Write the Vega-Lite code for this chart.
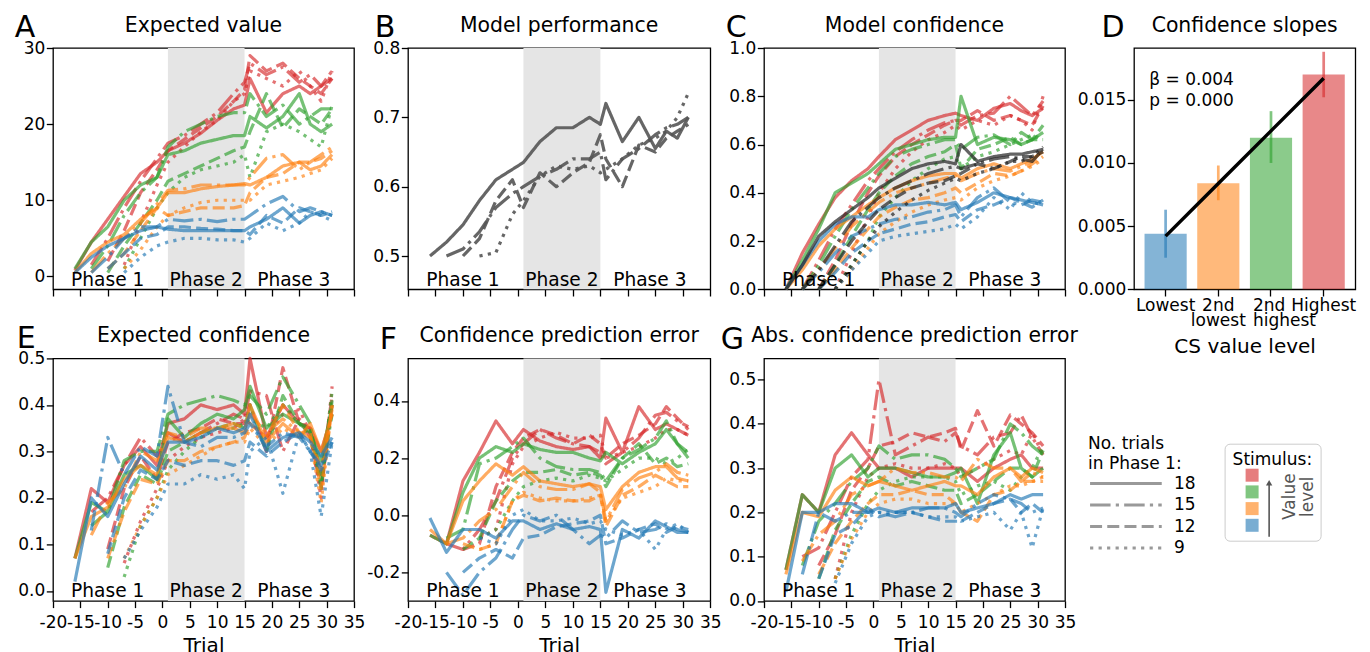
{
"$schema":"https://vega.github.io/schema/vega-lite/v6.json",
"background":"white",
"padding":{"left":13,"top":11,"right":0,"bottom":0},
"config":{
 "font":"DejaVu Sans",
 "view":{"stroke":"#000","strokeWidth":1.3},
 "axis":{"grid":false,"domain":false,"tickColor":"#000","tickWidth":1.3,"tickSize":6.7,"labelFont":"DejaVu Sans","labelFontSize":17,"labelColor":"#000","titleFont":"DejaVu Sans","titleFontWeight":"normal","titleColor":"#000","labelOverlap":false,"labelFlush":false,"labelBound":false},
 "axisX":{"titleFontSize":20,"labelOverlap":false},
 "axisY":{"labelPadding":1.5,"titleAngle":0,"titleAlign":"left","titleBaseline":"alphabetic","titleFontSize":30},
 "title":{"font":"DejaVu Sans","fontSize":20.4,"fontWeight":"normal","color":"#000","frame":"group","baseline":"alphabetic"},
 "legend":{"titleFont":"DejaVu Sans","labelFont":"DejaVu Sans","titleFontWeight":"normal","titleColor":"#000","labelColor":"#000","symbolBaseStrokeColor":"#999999"},
 "line":{"strokeWidth":3.2,"opacity":0.65,"strokeJoin":"round"}
},
"datasets":{
"S":[{"x":1,"x2":15}],
"P":[{"t":"Phase 1","x":-10},{"t":"Phase 2","x":8},{"t":"Phase 3","x":24}],
"A":[
{"n":18,"c":"R","x":-16,"y":0.8},{"n":18,"c":"R","x":-13,"y":4.5},{"n":18,"c":"R","x":-10,"y":7.5},{"n":18,"c":"R","x":-7,"y":10.5},{"n":18,"c":"R","x":-4,"y":13.5},{"n":18,"c":"R","x":-1,"y":15},{"n":18,"c":"R","x":1,"y":16.5},{"n":18,"c":"R","x":4,"y":17.5},{"n":18,"c":"R","x":7,"y":18.8},{"n":18,"c":"R","x":10,"y":20.5},{"n":18,"c":"R","x":13,"y":22},{"n":18,"c":"R","x":15,"y":22.5},{"n":18,"c":"R","x":16,"y":26},{"n":18,"c":"R","x":19,"y":21.5},{"n":18,"c":"R","x":22,"y":24},{"n":18,"c":"R","x":25,"y":25},{"n":18,"c":"R","x":27,"y":24},{"n":18,"c":"R","x":29,"y":25},{"n":18,"c":"R","x":31,"y":26},
{"n":15,"c":"R","x":-13,"y":1.5},{"n":15,"c":"R","x":-10,"y":5},{"n":15,"c":"R","x":-7,"y":9},{"n":15,"c":"R","x":-4,"y":12.5},{"n":15,"c":"R","x":-1,"y":15.5},{"n":15,"c":"R","x":1,"y":17.5},{"n":15,"c":"R","x":4,"y":18.5},{"n":15,"c":"R","x":7,"y":20},{"n":15,"c":"R","x":10,"y":21.5},{"n":15,"c":"R","x":13,"y":24},{"n":15,"c":"R","x":15,"y":25.5},{"n":15,"c":"R","x":16,"y":28},{"n":15,"c":"R","x":19,"y":26.5},{"n":15,"c":"R","x":22,"y":27.5},{"n":15,"c":"R","x":25,"y":25.5},{"n":15,"c":"R","x":27,"y":26.5},{"n":15,"c":"R","x":29,"y":25},{"n":15,"c":"R","x":31,"y":27},
{"n":12,"c":"R","x":-10,"y":2},{"n":12,"c":"R","x":-7,"y":6},{"n":12,"c":"R","x":-4,"y":11},{"n":12,"c":"R","x":-1,"y":14},{"n":12,"c":"R","x":1,"y":16.5},{"n":12,"c":"R","x":4,"y":18},{"n":12,"c":"R","x":7,"y":19.5},{"n":12,"c":"R","x":10,"y":21},{"n":12,"c":"R","x":13,"y":23},{"n":12,"c":"R","x":15,"y":24.5},{"n":12,"c":"R","x":16,"y":29},{"n":12,"c":"R","x":19,"y":27},{"n":12,"c":"R","x":22,"y":28},{"n":12,"c":"R","x":25,"y":26},{"n":12,"c":"R","x":27,"y":25},{"n":12,"c":"R","x":29,"y":24},{"n":12,"c":"R","x":31,"y":26},
{"n":9,"c":"R","x":-7,"y":1.5},{"n":9,"c":"R","x":-4,"y":7},{"n":9,"c":"R","x":-1,"y":12},{"n":9,"c":"R","x":1,"y":15},{"n":9,"c":"R","x":4,"y":17},{"n":9,"c":"R","x":7,"y":19},{"n":9,"c":"R","x":10,"y":20.5},{"n":9,"c":"R","x":13,"y":23},{"n":9,"c":"R","x":15,"y":24},{"n":9,"c":"R","x":16,"y":27},{"n":9,"c":"R","x":19,"y":26},{"n":9,"c":"R","x":22,"y":25},{"n":9,"c":"R","x":25,"y":27},{"n":9,"c":"R","x":27,"y":25},{"n":9,"c":"R","x":29,"y":23},{"n":9,"c":"R","x":31,"y":27},
{"n":18,"c":"G","x":-16,"y":1},{"n":18,"c":"G","x":-13,"y":4.5},{"n":18,"c":"G","x":-10,"y":6.5},{"n":18,"c":"G","x":-7,"y":10},{"n":18,"c":"G","x":-4,"y":12},{"n":18,"c":"G","x":-1,"y":13},{"n":18,"c":"G","x":1,"y":16},{"n":18,"c":"G","x":4,"y":16.5},{"n":18,"c":"G","x":7,"y":17.5},{"n":18,"c":"G","x":10,"y":18},{"n":18,"c":"G","x":13,"y":18.5},{"n":18,"c":"G","x":15,"y":18.5},{"n":18,"c":"G","x":16,"y":21},{"n":18,"c":"G","x":19,"y":19.5},{"n":18,"c":"G","x":22,"y":21},{"n":18,"c":"G","x":25,"y":24},{"n":18,"c":"G","x":27,"y":20},{"n":18,"c":"G","x":29,"y":19},{"n":18,"c":"G","x":31,"y":20},
{"n":15,"c":"G","x":-13,"y":1},{"n":15,"c":"G","x":-10,"y":4},{"n":15,"c":"G","x":-7,"y":8},{"n":15,"c":"G","x":-4,"y":11},{"n":15,"c":"G","x":-1,"y":13},{"n":15,"c":"G","x":1,"y":17},{"n":15,"c":"G","x":4,"y":19},{"n":15,"c":"G","x":7,"y":20},{"n":15,"c":"G","x":10,"y":21},{"n":15,"c":"G","x":13,"y":21.5},{"n":15,"c":"G","x":15,"y":21.5},{"n":15,"c":"G","x":16,"y":24},{"n":15,"c":"G","x":19,"y":21},{"n":15,"c":"G","x":22,"y":22.5},{"n":15,"c":"G","x":25,"y":20},{"n":15,"c":"G","x":27,"y":21},{"n":15,"c":"G","x":29,"y":22},{"n":15,"c":"G","x":31,"y":22},
{"n":12,"c":"G","x":-10,"y":0.5},{"n":12,"c":"G","x":-7,"y":4},{"n":12,"c":"G","x":-4,"y":7},{"n":12,"c":"G","x":-1,"y":10},{"n":12,"c":"G","x":1,"y":12.5},{"n":12,"c":"G","x":4,"y":13.5},{"n":12,"c":"G","x":7,"y":14.5},{"n":12,"c":"G","x":10,"y":15.5},{"n":12,"c":"G","x":13,"y":16.5},{"n":12,"c":"G","x":15,"y":17},{"n":12,"c":"G","x":16,"y":19},{"n":12,"c":"G","x":19,"y":24},{"n":12,"c":"G","x":22,"y":19.5},{"n":12,"c":"G","x":25,"y":22},{"n":12,"c":"G","x":27,"y":21},{"n":12,"c":"G","x":29,"y":20},{"n":12,"c":"G","x":31,"y":22},
{"n":9,"c":"G","x":-7,"y":1},{"n":9,"c":"G","x":-4,"y":5},{"n":9,"c":"G","x":-1,"y":9},{"n":9,"c":"G","x":1,"y":11},{"n":9,"c":"G","x":4,"y":13},{"n":9,"c":"G","x":7,"y":14},{"n":9,"c":"G","x":10,"y":14.5},{"n":9,"c":"G","x":13,"y":15},{"n":9,"c":"G","x":15,"y":16},{"n":9,"c":"G","x":16,"y":13},{"n":9,"c":"G","x":19,"y":19},{"n":9,"c":"G","x":22,"y":20},{"n":9,"c":"G","x":25,"y":19},{"n":9,"c":"G","x":27,"y":18},{"n":9,"c":"G","x":29,"y":17},{"n":9,"c":"G","x":31,"y":22.5},
{"n":18,"c":"O","x":-16,"y":0.5},{"n":18,"c":"O","x":-13,"y":3},{"n":18,"c":"O","x":-10,"y":4.5},{"n":18,"c":"O","x":-7,"y":5.5},{"n":18,"c":"O","x":-4,"y":7.5},{"n":18,"c":"O","x":-1,"y":9},{"n":18,"c":"O","x":1,"y":11},{"n":18,"c":"O","x":4,"y":11},{"n":18,"c":"O","x":7,"y":11.5},{"n":18,"c":"O","x":10,"y":11.8},{"n":18,"c":"O","x":13,"y":12},{"n":18,"c":"O","x":15,"y":12.2},{"n":18,"c":"O","x":16,"y":12},{"n":18,"c":"O","x":19,"y":13},{"n":18,"c":"O","x":22,"y":14.5},{"n":18,"c":"O","x":25,"y":15},{"n":18,"c":"O","x":27,"y":14},{"n":18,"c":"O","x":29,"y":14.5},{"n":18,"c":"O","x":31,"y":16},
{"n":15,"c":"O","x":-13,"y":0.5},{"n":15,"c":"O","x":-10,"y":3},{"n":15,"c":"O","x":-7,"y":5},{"n":15,"c":"O","x":-4,"y":7},{"n":15,"c":"O","x":-1,"y":9.5},{"n":15,"c":"O","x":1,"y":11.3},{"n":15,"c":"O","x":4,"y":11.5},{"n":15,"c":"O","x":7,"y":12},{"n":15,"c":"O","x":10,"y":12},{"n":15,"c":"O","x":13,"y":12},{"n":15,"c":"O","x":15,"y":12},{"n":15,"c":"O","x":16,"y":13},{"n":15,"c":"O","x":19,"y":15.5},{"n":15,"c":"O","x":22,"y":16},{"n":15,"c":"O","x":25,"y":14},{"n":15,"c":"O","x":27,"y":15},{"n":15,"c":"O","x":29,"y":16},{"n":15,"c":"O","x":31,"y":17},
{"n":12,"c":"O","x":-10,"y":1},{"n":12,"c":"O","x":-7,"y":3},{"n":12,"c":"O","x":-4,"y":6},{"n":12,"c":"O","x":-1,"y":9},{"n":12,"c":"O","x":1,"y":8},{"n":12,"c":"O","x":4,"y":8.5},{"n":12,"c":"O","x":7,"y":9},{"n":12,"c":"O","x":10,"y":9},{"n":12,"c":"O","x":13,"y":9},{"n":12,"c":"O","x":15,"y":9.3},{"n":12,"c":"O","x":16,"y":11},{"n":12,"c":"O","x":19,"y":13},{"n":12,"c":"O","x":22,"y":13.5},{"n":12,"c":"O","x":25,"y":15},{"n":12,"c":"O","x":27,"y":15},{"n":12,"c":"O","x":29,"y":15.5},{"n":12,"c":"O","x":31,"y":16.5},
{"n":9,"c":"O","x":-7,"y":1},{"n":9,"c":"O","x":-4,"y":3.5},{"n":9,"c":"O","x":-1,"y":6.5},{"n":9,"c":"O","x":1,"y":8},{"n":9,"c":"O","x":4,"y":9},{"n":9,"c":"O","x":7,"y":9.7},{"n":9,"c":"O","x":10,"y":10},{"n":9,"c":"O","x":13,"y":10},{"n":9,"c":"O","x":15,"y":10},{"n":9,"c":"O","x":16,"y":10},{"n":9,"c":"O","x":19,"y":12},{"n":9,"c":"O","x":22,"y":12.5},{"n":9,"c":"O","x":25,"y":13},{"n":9,"c":"O","x":27,"y":13.5},{"n":9,"c":"O","x":29,"y":14},{"n":9,"c":"O","x":31,"y":15.5},
{"n":18,"c":"B","x":-16,"y":0.5},{"n":18,"c":"B","x":-13,"y":2.5},{"n":18,"c":"B","x":-10,"y":4},{"n":18,"c":"B","x":-7,"y":5},{"n":18,"c":"B","x":-4,"y":6},{"n":18,"c":"B","x":-1,"y":6.5},{"n":18,"c":"B","x":1,"y":6.2},{"n":18,"c":"B","x":4,"y":6},{"n":18,"c":"B","x":7,"y":6},{"n":18,"c":"B","x":10,"y":6},{"n":18,"c":"B","x":13,"y":6},{"n":18,"c":"B","x":15,"y":6},{"n":18,"c":"B","x":16,"y":6.5},{"n":18,"c":"B","x":19,"y":7.5},{"n":18,"c":"B","x":22,"y":9},{"n":18,"c":"B","x":25,"y":7},{"n":18,"c":"B","x":27,"y":8},{"n":18,"c":"B","x":29,"y":8.5},{"n":18,"c":"B","x":31,"y":8},
{"n":15,"c":"B","x":-13,"y":0.5},{"n":15,"c":"B","x":-10,"y":2.5},{"n":15,"c":"B","x":-7,"y":5},{"n":15,"c":"B","x":-4,"y":6.5},{"n":15,"c":"B","x":-1,"y":6.5},{"n":15,"c":"B","x":1,"y":7.5},{"n":15,"c":"B","x":4,"y":7.3},{"n":15,"c":"B","x":7,"y":7.5},{"n":15,"c":"B","x":10,"y":7.2},{"n":15,"c":"B","x":13,"y":7.5},{"n":15,"c":"B","x":15,"y":7.5},{"n":15,"c":"B","x":16,"y":8},{"n":15,"c":"B","x":19,"y":9.5},{"n":15,"c":"B","x":22,"y":10.5},{"n":15,"c":"B","x":25,"y":8.5},{"n":15,"c":"B","x":27,"y":9},{"n":15,"c":"B","x":29,"y":8.5},{"n":15,"c":"B","x":31,"y":8},
{"n":12,"c":"B","x":-10,"y":1},{"n":12,"c":"B","x":-7,"y":3},{"n":12,"c":"B","x":-4,"y":5},{"n":12,"c":"B","x":-1,"y":5.5},{"n":12,"c":"B","x":1,"y":6.5},{"n":12,"c":"B","x":4,"y":6.5},{"n":12,"c":"B","x":7,"y":6.3},{"n":12,"c":"B","x":10,"y":6.2},{"n":12,"c":"B","x":13,"y":6},{"n":12,"c":"B","x":15,"y":6},{"n":12,"c":"B","x":16,"y":5.5},{"n":12,"c":"B","x":19,"y":8},{"n":12,"c":"B","x":22,"y":7},{"n":12,"c":"B","x":25,"y":9},{"n":12,"c":"B","x":27,"y":8.5},{"n":12,"c":"B","x":29,"y":8},{"n":12,"c":"B","x":31,"y":8.5},
{"n":9,"c":"B","x":-7,"y":0.5},{"n":9,"c":"B","x":-4,"y":2.5},{"n":9,"c":"B","x":-1,"y":4},{"n":9,"c":"B","x":1,"y":4.5},{"n":9,"c":"B","x":4,"y":5},{"n":9,"c":"B","x":7,"y":5},{"n":9,"c":"B","x":10,"y":4.8},{"n":9,"c":"B","x":13,"y":4.8},{"n":9,"c":"B","x":15,"y":4.5},{"n":9,"c":"B","x":16,"y":5},{"n":9,"c":"B","x":19,"y":7},{"n":9,"c":"B","x":22,"y":6},{"n":9,"c":"B","x":25,"y":7},{"n":9,"c":"B","x":27,"y":8.5},{"n":9,"c":"B","x":29,"y":8},{"n":9,"c":"B","x":31,"y":7.3}
],
"B":[
{"n":18,"x":-16,"y":0.5},{"n":18,"x":-13,"y":0.52},{"n":18,"x":-10,"y":0.545},{"n":18,"x":-7,"y":0.58},{"n":18,"x":-4,"y":0.61},{"n":18,"x":-1,"y":0.625},{"n":18,"x":1,"y":0.635},{"n":18,"x":4,"y":0.665},{"n":18,"x":7,"y":0.685},{"n":18,"x":10,"y":0.685},{"n":18,"x":13,"y":0.7},{"n":18,"x":15,"y":0.69},{"n":18,"x":16,"y":0.72},{"n":18,"x":19,"y":0.665},{"n":18,"x":22,"y":0.7},{"n":18,"x":25,"y":0.655},{"n":18,"x":27,"y":0.68},{"n":18,"x":29,"y":0.67},{"n":18,"x":31,"y":0.7},
{"n":15,"x":-13,"y":0.5},{"n":15,"x":-10,"y":0.51},{"n":15,"x":-7,"y":0.535},{"n":15,"x":-4,"y":0.57},{"n":15,"x":-1,"y":0.59},{"n":15,"x":1,"y":0.6},{"n":15,"x":4,"y":0.615},{"n":15,"x":7,"y":0.625},{"n":15,"x":10,"y":0.64},{"n":15,"x":13,"y":0.64},{"n":15,"x":15,"y":0.65},{"n":15,"x":16,"y":0.61},{"n":15,"x":19,"y":0.64},{"n":15,"x":22,"y":0.655},{"n":15,"x":25,"y":0.675},{"n":15,"x":27,"y":0.685},{"n":15,"x":29,"y":0.69},{"n":15,"x":31,"y":0.7},
{"n":12,"x":-10,"y":0.5},{"n":12,"x":-7,"y":0.525},{"n":12,"x":-4,"y":0.58},{"n":12,"x":-1,"y":0.61},{"n":12,"x":1,"y":0.57},{"n":12,"x":4,"y":0.62},{"n":12,"x":7,"y":0.6},{"n":12,"x":10,"y":0.62},{"n":12,"x":13,"y":0.635},{"n":12,"x":15,"y":0.675},{"n":12,"x":16,"y":0.64},{"n":12,"x":19,"y":0.6},{"n":12,"x":22,"y":0.66},{"n":12,"x":25,"y":0.65},{"n":12,"x":27,"y":0.67},{"n":12,"x":29,"y":0.68},{"n":12,"x":31,"y":0.69},
{"n":9,"x":-7,"y":0.5},{"n":9,"x":-4,"y":0.505},{"n":9,"x":-1,"y":0.56},{"n":9,"x":1,"y":0.58},{"n":9,"x":4,"y":0.615},{"n":9,"x":7,"y":0.63},{"n":9,"x":10,"y":0.625},{"n":9,"x":13,"y":0.63},{"n":9,"x":15,"y":0.62},{"n":9,"x":16,"y":0.625},{"n":9,"x":19,"y":0.64},{"n":9,"x":22,"y":0.66},{"n":9,"x":25,"y":0.67},{"n":9,"x":27,"y":0.68},{"n":9,"x":29,"y":0.7},{"n":9,"x":31,"y":0.735}
],
"C":[
{"n":18,"c":"R","x":-16,"y":0},{"n":18,"c":"R","x":-13,"y":0.15},{"n":18,"c":"R","x":-10,"y":0.27},{"n":18,"c":"R","x":-7,"y":0.38},{"n":18,"c":"R","x":-4,"y":0.45},{"n":18,"c":"R","x":-1,"y":0.5},{"n":18,"c":"R","x":1,"y":0.55},{"n":18,"c":"R","x":4,"y":0.62},{"n":18,"c":"R","x":7,"y":0.66},{"n":18,"c":"R","x":10,"y":0.7},{"n":18,"c":"R","x":13,"y":0.72},{"n":18,"c":"R","x":15,"y":0.73},{"n":18,"c":"R","x":16,"y":0.72},{"n":18,"c":"R","x":19,"y":0.7},{"n":18,"c":"R","x":22,"y":0.75},{"n":18,"c":"R","x":25,"y":0.77},{"n":18,"c":"R","x":27,"y":0.74},{"n":18,"c":"R","x":29,"y":0.72},{"n":18,"c":"R","x":31,"y":0.75},
{"n":15,"c":"R","x":-13,"y":0},{"n":15,"c":"R","x":-10,"y":0.12},{"n":15,"c":"R","x":-7,"y":0.25},{"n":15,"c":"R","x":-4,"y":0.35},{"n":15,"c":"R","x":-1,"y":0.45},{"n":15,"c":"R","x":1,"y":0.5},{"n":15,"c":"R","x":4,"y":0.57},{"n":15,"c":"R","x":7,"y":0.62},{"n":15,"c":"R","x":10,"y":0.66},{"n":15,"c":"R","x":13,"y":0.69},{"n":15,"c":"R","x":15,"y":0.7},{"n":15,"c":"R","x":16,"y":0.68},{"n":15,"c":"R","x":19,"y":0.72},{"n":15,"c":"R","x":22,"y":0.73},{"n":15,"c":"R","x":25,"y":0.8},{"n":15,"c":"R","x":27,"y":0.76},{"n":15,"c":"R","x":29,"y":0.72},{"n":15,"c":"R","x":31,"y":0.78},
{"n":12,"c":"R","x":-10,"y":0},{"n":12,"c":"R","x":-7,"y":0.12},{"n":12,"c":"R","x":-4,"y":0.27},{"n":12,"c":"R","x":-1,"y":0.4},{"n":12,"c":"R","x":1,"y":0.47},{"n":12,"c":"R","x":4,"y":0.55},{"n":12,"c":"R","x":7,"y":0.6},{"n":12,"c":"R","x":10,"y":0.64},{"n":12,"c":"R","x":13,"y":0.68},{"n":12,"c":"R","x":15,"y":0.7},{"n":12,"c":"R","x":16,"y":0.7},{"n":12,"c":"R","x":19,"y":0.74},{"n":12,"c":"R","x":22,"y":0.7},{"n":12,"c":"R","x":25,"y":0.72},{"n":12,"c":"R","x":27,"y":0.7},{"n":12,"c":"R","x":29,"y":0.68},{"n":12,"c":"R","x":31,"y":0.76},
{"n":9,"c":"R","x":-7,"y":0},{"n":9,"c":"R","x":-4,"y":0.15},{"n":9,"c":"R","x":-1,"y":0.3},{"n":9,"c":"R","x":1,"y":0.4},{"n":9,"c":"R","x":4,"y":0.5},{"n":9,"c":"R","x":7,"y":0.57},{"n":9,"c":"R","x":10,"y":0.62},{"n":9,"c":"R","x":13,"y":0.65},{"n":9,"c":"R","x":15,"y":0.68},{"n":9,"c":"R","x":16,"y":0.66},{"n":9,"c":"R","x":19,"y":0.7},{"n":9,"c":"R","x":22,"y":0.68},{"n":9,"c":"R","x":25,"y":0.72},{"n":9,"c":"R","x":27,"y":0.7},{"n":9,"c":"R","x":29,"y":0.66},{"n":9,"c":"R","x":31,"y":0.8},
{"n":18,"c":"G","x":-16,"y":0},{"n":18,"c":"G","x":-13,"y":0.12},{"n":18,"c":"G","x":-10,"y":0.25},{"n":18,"c":"G","x":-7,"y":0.4},{"n":18,"c":"G","x":-4,"y":0.44},{"n":18,"c":"G","x":-1,"y":0.48},{"n":18,"c":"G","x":1,"y":0.52},{"n":18,"c":"G","x":4,"y":0.58},{"n":18,"c":"G","x":7,"y":0.6},{"n":18,"c":"G","x":10,"y":0.62},{"n":18,"c":"G","x":13,"y":0.63},{"n":18,"c":"G","x":15,"y":0.63},{"n":18,"c":"G","x":16,"y":0.8},{"n":18,"c":"G","x":19,"y":0.6},{"n":18,"c":"G","x":22,"y":0.63},{"n":18,"c":"G","x":25,"y":0.62},{"n":18,"c":"G","x":27,"y":0.6},{"n":18,"c":"G","x":29,"y":0.62},{"n":18,"c":"G","x":31,"y":0.65},
{"n":15,"c":"G","x":-13,"y":0},{"n":15,"c":"G","x":-10,"y":0.1},{"n":15,"c":"G","x":-7,"y":0.22},{"n":15,"c":"G","x":-4,"y":0.33},{"n":15,"c":"G","x":-1,"y":0.42},{"n":15,"c":"G","x":1,"y":0.48},{"n":15,"c":"G","x":4,"y":0.55},{"n":15,"c":"G","x":7,"y":0.58},{"n":15,"c":"G","x":10,"y":0.6},{"n":15,"c":"G","x":13,"y":0.62},{"n":15,"c":"G","x":15,"y":0.62},{"n":15,"c":"G","x":16,"y":0.58},{"n":15,"c":"G","x":19,"y":0.63},{"n":15,"c":"G","x":22,"y":0.64},{"n":15,"c":"G","x":25,"y":0.6},{"n":15,"c":"G","x":27,"y":0.65},{"n":15,"c":"G","x":29,"y":0.62},{"n":15,"c":"G","x":31,"y":0.62},
{"n":12,"c":"G","x":-10,"y":0},{"n":12,"c":"G","x":-7,"y":0.1},{"n":12,"c":"G","x":-4,"y":0.22},{"n":12,"c":"G","x":-1,"y":0.33},{"n":12,"c":"G","x":1,"y":0.4},{"n":12,"c":"G","x":4,"y":0.47},{"n":12,"c":"G","x":7,"y":0.52},{"n":12,"c":"G","x":10,"y":0.55},{"n":12,"c":"G","x":13,"y":0.57},{"n":12,"c":"G","x":15,"y":0.6},{"n":12,"c":"G","x":16,"y":0.5},{"n":12,"c":"G","x":19,"y":0.58},{"n":12,"c":"G","x":22,"y":0.6},{"n":12,"c":"G","x":25,"y":0.63},{"n":12,"c":"G","x":27,"y":0.6},{"n":12,"c":"G","x":29,"y":0.62},{"n":12,"c":"G","x":31,"y":0.68},
{"n":9,"c":"G","x":-7,"y":0},{"n":9,"c":"G","x":-4,"y":0.1},{"n":9,"c":"G","x":-1,"y":0.2},{"n":9,"c":"G","x":1,"y":0.3},{"n":9,"c":"G","x":4,"y":0.38},{"n":9,"c":"G","x":7,"y":0.45},{"n":9,"c":"G","x":10,"y":0.5},{"n":9,"c":"G","x":13,"y":0.54},{"n":9,"c":"G","x":15,"y":0.55},{"n":9,"c":"G","x":16,"y":0.5},{"n":9,"c":"G","x":19,"y":0.55},{"n":9,"c":"G","x":22,"y":0.57},{"n":9,"c":"G","x":25,"y":0.6},{"n":9,"c":"G","x":27,"y":0.62},{"n":9,"c":"G","x":29,"y":0.64},{"n":9,"c":"G","x":31,"y":0.62},
{"n":18,"c":"O","x":-16,"y":0},{"n":18,"c":"O","x":-13,"y":0.08},{"n":18,"c":"O","x":-10,"y":0.18},{"n":18,"c":"O","x":-7,"y":0.25},{"n":18,"c":"O","x":-4,"y":0.3},{"n":18,"c":"O","x":-1,"y":0.35},{"n":18,"c":"O","x":1,"y":0.38},{"n":18,"c":"O","x":4,"y":0.42},{"n":18,"c":"O","x":7,"y":0.45},{"n":18,"c":"O","x":10,"y":0.47},{"n":18,"c":"O","x":13,"y":0.48},{"n":18,"c":"O","x":15,"y":0.48},{"n":18,"c":"O","x":16,"y":0.46},{"n":18,"c":"O","x":19,"y":0.5},{"n":18,"c":"O","x":22,"y":0.52},{"n":18,"c":"O","x":25,"y":0.5},{"n":18,"c":"O","x":27,"y":0.52},{"n":18,"c":"O","x":29,"y":0.54},{"n":18,"c":"O","x":31,"y":0.57},
{"n":15,"c":"O","x":-13,"y":0},{"n":15,"c":"O","x":-10,"y":0.08},{"n":15,"c":"O","x":-7,"y":0.17},{"n":15,"c":"O","x":-4,"y":0.26},{"n":15,"c":"O","x":-1,"y":0.32},{"n":15,"c":"O","x":1,"y":0.36},{"n":15,"c":"O","x":4,"y":0.4},{"n":15,"c":"O","x":7,"y":0.42},{"n":15,"c":"O","x":10,"y":0.44},{"n":15,"c":"O","x":13,"y":0.46},{"n":15,"c":"O","x":15,"y":0.47},{"n":15,"c":"O","x":16,"y":0.45},{"n":15,"c":"O","x":19,"y":0.48},{"n":15,"c":"O","x":22,"y":0.5},{"n":15,"c":"O","x":25,"y":0.49},{"n":15,"c":"O","x":27,"y":0.51},{"n":15,"c":"O","x":29,"y":0.53},{"n":15,"c":"O","x":31,"y":0.58},
{"n":12,"c":"O","x":-10,"y":0},{"n":12,"c":"O","x":-7,"y":0.08},{"n":12,"c":"O","x":-4,"y":0.17},{"n":12,"c":"O","x":-1,"y":0.25},{"n":12,"c":"O","x":1,"y":0.3},{"n":12,"c":"O","x":4,"y":0.34},{"n":12,"c":"O","x":7,"y":0.37},{"n":12,"c":"O","x":10,"y":0.38},{"n":12,"c":"O","x":13,"y":0.4},{"n":12,"c":"O","x":15,"y":0.42},{"n":12,"c":"O","x":16,"y":0.4},{"n":12,"c":"O","x":19,"y":0.44},{"n":12,"c":"O","x":22,"y":0.48},{"n":12,"c":"O","x":25,"y":0.47},{"n":12,"c":"O","x":27,"y":0.49},{"n":12,"c":"O","x":29,"y":0.52},{"n":12,"c":"O","x":31,"y":0.55},
{"n":9,"c":"O","x":-7,"y":0},{"n":9,"c":"O","x":-4,"y":0.08},{"n":9,"c":"O","x":-1,"y":0.17},{"n":9,"c":"O","x":1,"y":0.23},{"n":9,"c":"O","x":4,"y":0.28},{"n":9,"c":"O","x":7,"y":0.32},{"n":9,"c":"O","x":10,"y":0.35},{"n":9,"c":"O","x":13,"y":0.37},{"n":9,"c":"O","x":15,"y":0.38},{"n":9,"c":"O","x":16,"y":0.37},{"n":9,"c":"O","x":19,"y":0.42},{"n":9,"c":"O","x":22,"y":0.45},{"n":9,"c":"O","x":25,"y":0.47},{"n":9,"c":"O","x":27,"y":0.49},{"n":9,"c":"O","x":29,"y":0.51},{"n":9,"c":"O","x":31,"y":0.54},
{"n":18,"c":"B","x":-16,"y":0},{"n":18,"c":"B","x":-13,"y":0.1},{"n":18,"c":"B","x":-10,"y":0.2},{"n":18,"c":"B","x":-7,"y":0.27},{"n":18,"c":"B","x":-4,"y":0.3},{"n":18,"c":"B","x":-1,"y":0.3},{"n":18,"c":"B","x":1,"y":0.33},{"n":18,"c":"B","x":4,"y":0.35},{"n":18,"c":"B","x":7,"y":0.35},{"n":18,"c":"B","x":10,"y":0.36},{"n":18,"c":"B","x":13,"y":0.35},{"n":18,"c":"B","x":15,"y":0.36},{"n":18,"c":"B","x":16,"y":0.33},{"n":18,"c":"B","x":19,"y":0.36},{"n":18,"c":"B","x":22,"y":0.4},{"n":18,"c":"B","x":25,"y":0.38},{"n":18,"c":"B","x":27,"y":0.37},{"n":18,"c":"B","x":29,"y":0.36},{"n":18,"c":"B","x":31,"y":0.35},
{"n":15,"c":"B","x":-13,"y":0},{"n":15,"c":"B","x":-10,"y":0.07},{"n":15,"c":"B","x":-7,"y":0.15},{"n":15,"c":"B","x":-4,"y":0.22},{"n":15,"c":"B","x":-1,"y":0.25},{"n":15,"c":"B","x":1,"y":0.27},{"n":15,"c":"B","x":4,"y":0.29},{"n":15,"c":"B","x":7,"y":0.3},{"n":15,"c":"B","x":10,"y":0.32},{"n":15,"c":"B","x":13,"y":0.33},{"n":15,"c":"B","x":15,"y":0.35},{"n":15,"c":"B","x":16,"y":0.3},{"n":15,"c":"B","x":19,"y":0.38},{"n":15,"c":"B","x":22,"y":0.42},{"n":15,"c":"B","x":25,"y":0.36},{"n":15,"c":"B","x":27,"y":0.35},{"n":15,"c":"B","x":29,"y":0.37},{"n":15,"c":"B","x":31,"y":0.36},
{"n":12,"c":"B","x":-10,"y":0},{"n":12,"c":"B","x":-7,"y":0.07},{"n":12,"c":"B","x":-4,"y":0.15},{"n":12,"c":"B","x":-1,"y":0.2},{"n":12,"c":"B","x":1,"y":0.23},{"n":12,"c":"B","x":4,"y":0.25},{"n":12,"c":"B","x":7,"y":0.27},{"n":12,"c":"B","x":10,"y":0.28},{"n":12,"c":"B","x":13,"y":0.3},{"n":12,"c":"B","x":15,"y":0.31},{"n":12,"c":"B","x":16,"y":0.28},{"n":12,"c":"B","x":19,"y":0.33},{"n":12,"c":"B","x":22,"y":0.35},{"n":12,"c":"B","x":25,"y":0.38},{"n":12,"c":"B","x":27,"y":0.36},{"n":12,"c":"B","x":29,"y":0.34},{"n":12,"c":"B","x":31,"y":0.37},
{"n":9,"c":"B","x":-7,"y":0},{"n":9,"c":"B","x":-4,"y":0.08},{"n":9,"c":"B","x":-1,"y":0.15},{"n":9,"c":"B","x":1,"y":0.2},{"n":9,"c":"B","x":4,"y":0.22},{"n":9,"c":"B","x":7,"y":0.23},{"n":9,"c":"B","x":10,"y":0.24},{"n":9,"c":"B","x":13,"y":0.25},{"n":9,"c":"B","x":15,"y":0.27},{"n":9,"c":"B","x":16,"y":0.25},{"n":9,"c":"B","x":19,"y":0.3},{"n":9,"c":"B","x":22,"y":0.38},{"n":9,"c":"B","x":25,"y":0.33},{"n":9,"c":"B","x":27,"y":0.4},{"n":9,"c":"B","x":29,"y":0.36},{"n":9,"c":"B","x":31,"y":0.35}
],
"K":[
{"n":18,"x":-16,"y":0},{"n":18,"x":-13,"y":0.1},{"n":18,"x":-10,"y":0.22},{"n":18,"x":-7,"y":0.28},{"n":18,"x":-4,"y":0.33},{"n":18,"x":-1,"y":0.38},{"n":18,"x":1,"y":0.42},{"n":18,"x":4,"y":0.46},{"n":18,"x":7,"y":0.5},{"n":18,"x":10,"y":0.52},{"n":18,"x":13,"y":0.53},{"n":18,"x":15,"y":0.52},{"n":18,"x":16,"y":0.6},{"n":18,"x":19,"y":0.53},{"n":18,"x":22,"y":0.55},{"n":18,"x":25,"y":0.56},{"n":18,"x":27,"y":0.56},{"n":18,"x":29,"y":0.57},{"n":18,"x":31,"y":0.58},
{"n":15,"x":-13,"y":0},{"n":15,"x":-10,"y":0.08},{"n":15,"x":-7,"y":0.18},{"n":15,"x":-4,"y":0.28},{"n":15,"x":-1,"y":0.34},{"n":15,"x":1,"y":0.38},{"n":15,"x":4,"y":0.42},{"n":15,"x":7,"y":0.45},{"n":15,"x":10,"y":0.48},{"n":15,"x":13,"y":0.5},{"n":15,"x":15,"y":0.51},{"n":15,"x":16,"y":0.5},{"n":15,"x":19,"y":0.52},{"n":15,"x":22,"y":0.54},{"n":15,"x":25,"y":0.55},{"n":15,"x":27,"y":0.54},{"n":15,"x":29,"y":0.53},{"n":15,"x":31,"y":0.58},
{"n":12,"x":-10,"y":0},{"n":12,"x":-7,"y":0.1},{"n":12,"x":-4,"y":0.2},{"n":12,"x":-1,"y":0.28},{"n":12,"x":1,"y":0.33},{"n":12,"x":4,"y":0.38},{"n":12,"x":7,"y":0.42},{"n":12,"x":10,"y":0.44},{"n":12,"x":13,"y":0.45},{"n":12,"x":15,"y":0.47},{"n":12,"x":16,"y":0.48},{"n":12,"x":19,"y":0.52},{"n":12,"x":22,"y":0.5},{"n":12,"x":25,"y":0.53},{"n":12,"x":27,"y":0.55},{"n":12,"x":29,"y":0.55},{"n":12,"x":31,"y":0.57},
{"n":9,"x":-7,"y":0},{"n":9,"x":-4,"y":0.1},{"n":9,"x":-1,"y":0.2},{"n":9,"x":1,"y":0.26},{"n":9,"x":4,"y":0.32},{"n":9,"x":7,"y":0.37},{"n":9,"x":10,"y":0.41},{"n":9,"x":13,"y":0.44},{"n":9,"x":15,"y":0.46},{"n":9,"x":16,"y":0.45},{"n":9,"x":19,"y":0.48},{"n":9,"x":22,"y":0.5},{"n":9,"x":25,"y":0.53},{"n":9,"x":27,"y":0.53},{"n":9,"x":29,"y":0.55},{"n":9,"x":31,"y":0.59}
],
"E":[
{"n":18,"c":"R","x":-16,"y":0.07},{"n":18,"c":"R","x":-13,"y":0.22},{"n":18,"c":"R","x":-10,"y":0.19},{"n":18,"c":"R","x":-7,"y":0.27},{"n":18,"c":"R","x":-4,"y":0.31},{"n":18,"c":"R","x":-1,"y":0.27},{"n":18,"c":"R","x":1,"y":0.36},{"n":18,"c":"R","x":4,"y":0.37},{"n":18,"c":"R","x":7,"y":0.4},{"n":18,"c":"R","x":10,"y":0.39},{"n":18,"c":"R","x":13,"y":0.4},{"n":18,"c":"R","x":15,"y":0.38},{"n":18,"c":"R","x":16,"y":0.5},{"n":18,"c":"R","x":19,"y":0.33},{"n":18,"c":"R","x":22,"y":0.4},{"n":18,"c":"R","x":25,"y":0.36},{"n":18,"c":"R","x":27,"y":0.35},{"n":18,"c":"R","x":29,"y":0.3},{"n":18,"c":"R","x":31,"y":0.38},
{"n":15,"c":"R","x":-13,"y":0.17},{"n":15,"c":"R","x":-10,"y":0.2},{"n":15,"c":"R","x":-7,"y":0.27},{"n":15,"c":"R","x":-4,"y":0.33},{"n":15,"c":"R","x":-1,"y":0.29},{"n":15,"c":"R","x":1,"y":0.34},{"n":15,"c":"R","x":4,"y":0.32},{"n":15,"c":"R","x":7,"y":0.34},{"n":15,"c":"R","x":10,"y":0.36},{"n":15,"c":"R","x":13,"y":0.38},{"n":15,"c":"R","x":15,"y":0.37},{"n":15,"c":"R","x":16,"y":0.43},{"n":15,"c":"R","x":19,"y":0.42},{"n":15,"c":"R","x":22,"y":0.3},{"n":15,"c":"R","x":25,"y":0.37},{"n":15,"c":"R","x":27,"y":0.33},{"n":15,"c":"R","x":29,"y":0.22},{"n":15,"c":"R","x":31,"y":0.4},
{"n":12,"c":"R","x":-10,"y":0.09},{"n":12,"c":"R","x":-7,"y":0.22},{"n":12,"c":"R","x":-4,"y":0.29},{"n":12,"c":"R","x":-1,"y":0.24},{"n":12,"c":"R","x":1,"y":0.32},{"n":12,"c":"R","x":4,"y":0.34},{"n":12,"c":"R","x":7,"y":0.35},{"n":12,"c":"R","x":10,"y":0.37},{"n":12,"c":"R","x":13,"y":0.36},{"n":12,"c":"R","x":15,"y":0.36},{"n":12,"c":"R","x":16,"y":0.4},{"n":12,"c":"R","x":19,"y":0.3},{"n":12,"c":"R","x":22,"y":0.48},{"n":12,"c":"R","x":25,"y":0.36},{"n":12,"c":"R","x":27,"y":0.35},{"n":12,"c":"R","x":29,"y":0.25},{"n":12,"c":"R","x":31,"y":0.42},
{"n":9,"c":"R","x":-7,"y":0.06},{"n":9,"c":"R","x":-4,"y":0.15},{"n":9,"c":"R","x":-1,"y":0.22},{"n":9,"c":"R","x":1,"y":0.28},{"n":9,"c":"R","x":4,"y":0.31},{"n":9,"c":"R","x":7,"y":0.33},{"n":9,"c":"R","x":10,"y":0.34},{"n":9,"c":"R","x":13,"y":0.35},{"n":9,"c":"R","x":15,"y":0.37},{"n":9,"c":"R","x":16,"y":0.36},{"n":9,"c":"R","x":19,"y":0.33},{"n":9,"c":"R","x":22,"y":0.38},{"n":9,"c":"R","x":25,"y":0.39},{"n":9,"c":"R","x":27,"y":0.34},{"n":9,"c":"R","x":29,"y":0.2},{"n":9,"c":"R","x":31,"y":0.44},
{"n":18,"c":"G","x":-16,"y":0.07},{"n":18,"c":"G","x":-13,"y":0.19},{"n":18,"c":"G","x":-10,"y":0.17},{"n":18,"c":"G","x":-7,"y":0.25},{"n":18,"c":"G","x":-4,"y":0.27},{"n":18,"c":"G","x":-1,"y":0.24},{"n":18,"c":"G","x":1,"y":0.37},{"n":18,"c":"G","x":4,"y":0.33},{"n":18,"c":"G","x":7,"y":0.36},{"n":18,"c":"G","x":10,"y":0.38},{"n":18,"c":"G","x":13,"y":0.37},{"n":18,"c":"G","x":15,"y":0.39},{"n":18,"c":"G","x":16,"y":0.44},{"n":18,"c":"G","x":19,"y":0.35},{"n":18,"c":"G","x":22,"y":0.38},{"n":18,"c":"G","x":25,"y":0.36},{"n":18,"c":"G","x":27,"y":0.34},{"n":18,"c":"G","x":29,"y":0.28},{"n":18,"c":"G","x":31,"y":0.4},
{"n":15,"c":"G","x":-13,"y":0.14},{"n":15,"c":"G","x":-10,"y":0.17},{"n":15,"c":"G","x":-7,"y":0.28},{"n":15,"c":"G","x":-4,"y":0.3},{"n":15,"c":"G","x":-1,"y":0.3},{"n":15,"c":"G","x":1,"y":0.38},{"n":15,"c":"G","x":4,"y":0.4},{"n":15,"c":"G","x":7,"y":0.41},{"n":15,"c":"G","x":10,"y":0.42},{"n":15,"c":"G","x":13,"y":0.41},{"n":15,"c":"G","x":15,"y":0.4},{"n":15,"c":"G","x":16,"y":0.42},{"n":15,"c":"G","x":19,"y":0.38},{"n":15,"c":"G","x":22,"y":0.46},{"n":15,"c":"G","x":25,"y":0.4},{"n":15,"c":"G","x":27,"y":0.36},{"n":15,"c":"G","x":29,"y":0.24},{"n":15,"c":"G","x":31,"y":0.38},
{"n":12,"c":"G","x":-10,"y":0.05},{"n":12,"c":"G","x":-7,"y":0.18},{"n":12,"c":"G","x":-4,"y":0.25},{"n":12,"c":"G","x":-1,"y":0.23},{"n":12,"c":"G","x":1,"y":0.3},{"n":12,"c":"G","x":4,"y":0.32},{"n":12,"c":"G","x":7,"y":0.34},{"n":12,"c":"G","x":10,"y":0.35},{"n":12,"c":"G","x":13,"y":0.36},{"n":12,"c":"G","x":15,"y":0.35},{"n":12,"c":"G","x":16,"y":0.4},{"n":12,"c":"G","x":19,"y":0.3},{"n":12,"c":"G","x":22,"y":0.42},{"n":12,"c":"G","x":25,"y":0.36},{"n":12,"c":"G","x":27,"y":0.35},{"n":12,"c":"G","x":29,"y":0.22},{"n":12,"c":"G","x":31,"y":0.41},
{"n":9,"c":"G","x":-7,"y":0.03},{"n":9,"c":"G","x":-4,"y":0.14},{"n":9,"c":"G","x":-1,"y":0.2},{"n":9,"c":"G","x":1,"y":0.26},{"n":9,"c":"G","x":4,"y":0.3},{"n":9,"c":"G","x":7,"y":0.33},{"n":9,"c":"G","x":10,"y":0.35},{"n":9,"c":"G","x":13,"y":0.35},{"n":9,"c":"G","x":15,"y":0.36},{"n":9,"c":"G","x":16,"y":0.37},{"n":9,"c":"G","x":19,"y":0.35},{"n":9,"c":"G","x":22,"y":0.4},{"n":9,"c":"G","x":25,"y":0.36},{"n":9,"c":"G","x":27,"y":0.33},{"n":9,"c":"G","x":29,"y":0.23},{"n":9,"c":"G","x":31,"y":0.43},
{"n":18,"c":"O","x":-16,"y":0.07},{"n":18,"c":"O","x":-13,"y":0.16},{"n":18,"c":"O","x":-10,"y":0.18},{"n":18,"c":"O","x":-7,"y":0.24},{"n":18,"c":"O","x":-4,"y":0.27},{"n":18,"c":"O","x":-1,"y":0.25},{"n":18,"c":"O","x":1,"y":0.33},{"n":18,"c":"O","x":4,"y":0.32},{"n":18,"c":"O","x":7,"y":0.34},{"n":18,"c":"O","x":10,"y":0.35},{"n":18,"c":"O","x":13,"y":0.35},{"n":18,"c":"O","x":15,"y":0.34},{"n":18,"c":"O","x":16,"y":0.4},{"n":18,"c":"O","x":19,"y":0.32},{"n":18,"c":"O","x":22,"y":0.36},{"n":18,"c":"O","x":25,"y":0.33},{"n":18,"c":"O","x":27,"y":0.36},{"n":18,"c":"O","x":29,"y":0.3},{"n":18,"c":"O","x":31,"y":0.38},
{"n":15,"c":"O","x":-13,"y":0.12},{"n":15,"c":"O","x":-10,"y":0.19},{"n":15,"c":"O","x":-7,"y":0.22},{"n":15,"c":"O","x":-4,"y":0.3},{"n":15,"c":"O","x":-1,"y":0.28},{"n":15,"c":"O","x":1,"y":0.34},{"n":15,"c":"O","x":4,"y":0.33},{"n":15,"c":"O","x":7,"y":0.35},{"n":15,"c":"O","x":10,"y":0.35},{"n":15,"c":"O","x":13,"y":0.36},{"n":15,"c":"O","x":15,"y":0.35},{"n":15,"c":"O","x":16,"y":0.38},{"n":15,"c":"O","x":19,"y":0.34},{"n":15,"c":"O","x":22,"y":0.37},{"n":15,"c":"O","x":25,"y":0.34},{"n":15,"c":"O","x":27,"y":0.33},{"n":15,"c":"O","x":29,"y":0.26},{"n":15,"c":"O","x":31,"y":0.39},
{"n":12,"c":"O","x":-10,"y":0.07},{"n":12,"c":"O","x":-7,"y":0.17},{"n":12,"c":"O","x":-4,"y":0.24},{"n":12,"c":"O","x":-1,"y":0.23},{"n":12,"c":"O","x":1,"y":0.28},{"n":12,"c":"O","x":4,"y":0.28},{"n":12,"c":"O","x":7,"y":0.3},{"n":12,"c":"O","x":10,"y":0.31},{"n":12,"c":"O","x":13,"y":0.32},{"n":12,"c":"O","x":15,"y":0.33},{"n":12,"c":"O","x":16,"y":0.36},{"n":12,"c":"O","x":19,"y":0.33},{"n":12,"c":"O","x":22,"y":0.4},{"n":12,"c":"O","x":25,"y":0.34},{"n":12,"c":"O","x":27,"y":0.34},{"n":12,"c":"O","x":29,"y":0.22},{"n":12,"c":"O","x":31,"y":0.4},
{"n":9,"c":"O","x":-7,"y":0.07},{"n":9,"c":"O","x":-4,"y":0.14},{"n":9,"c":"O","x":-1,"y":0.2},{"n":9,"c":"O","x":1,"y":0.25},{"n":9,"c":"O","x":4,"y":0.27},{"n":9,"c":"O","x":7,"y":0.29},{"n":9,"c":"O","x":10,"y":0.31},{"n":9,"c":"O","x":13,"y":0.32},{"n":9,"c":"O","x":15,"y":0.32},{"n":9,"c":"O","x":16,"y":0.35},{"n":9,"c":"O","x":19,"y":0.31},{"n":9,"c":"O","x":22,"y":0.35},{"n":9,"c":"O","x":25,"y":0.33},{"n":9,"c":"O","x":27,"y":0.33},{"n":9,"c":"O","x":29,"y":0.19},{"n":9,"c":"O","x":31,"y":0.4},
{"n":18,"c":"B","x":-16,"y":0.02},{"n":18,"c":"B","x":-13,"y":0.2},{"n":18,"c":"B","x":-10,"y":0.16},{"n":18,"c":"B","x":-7,"y":0.23},{"n":18,"c":"B","x":-4,"y":0.29},{"n":18,"c":"B","x":-1,"y":0.26},{"n":18,"c":"B","x":1,"y":0.32},{"n":18,"c":"B","x":4,"y":0.32},{"n":18,"c":"B","x":7,"y":0.33},{"n":18,"c":"B","x":10,"y":0.35},{"n":18,"c":"B","x":13,"y":0.34},{"n":18,"c":"B","x":15,"y":0.35},{"n":18,"c":"B","x":16,"y":0.38},{"n":18,"c":"B","x":19,"y":0.3},{"n":18,"c":"B","x":22,"y":0.33},{"n":18,"c":"B","x":25,"y":0.34},{"n":18,"c":"B","x":27,"y":0.32},{"n":18,"c":"B","x":29,"y":0.29},{"n":18,"c":"B","x":31,"y":0.33},
{"n":15,"c":"B","x":-13,"y":0.13},{"n":15,"c":"B","x":-10,"y":0.33},{"n":15,"c":"B","x":-7,"y":0.25},{"n":15,"c":"B","x":-4,"y":0.31},{"n":15,"c":"B","x":-1,"y":0.29},{"n":15,"c":"B","x":1,"y":0.44},{"n":15,"c":"B","x":4,"y":0.32},{"n":15,"c":"B","x":7,"y":0.31},{"n":15,"c":"B","x":10,"y":0.33},{"n":15,"c":"B","x":13,"y":0.33},{"n":15,"c":"B","x":15,"y":0.34},{"n":15,"c":"B","x":16,"y":0.36},{"n":15,"c":"B","x":19,"y":0.31},{"n":15,"c":"B","x":22,"y":0.34},{"n":15,"c":"B","x":25,"y":0.33},{"n":15,"c":"B","x":27,"y":0.3},{"n":15,"c":"B","x":29,"y":0.27},{"n":15,"c":"B","x":31,"y":0.32},
{"n":12,"c":"B","x":-10,"y":0.08},{"n":12,"c":"B","x":-7,"y":0.2},{"n":12,"c":"B","x":-4,"y":0.26},{"n":12,"c":"B","x":-1,"y":0.24},{"n":12,"c":"B","x":1,"y":0.28},{"n":12,"c":"B","x":4,"y":0.27},{"n":12,"c":"B","x":7,"y":0.28},{"n":12,"c":"B","x":10,"y":0.28},{"n":12,"c":"B","x":13,"y":0.27},{"n":12,"c":"B","x":15,"y":0.28},{"n":12,"c":"B","x":16,"y":0.32},{"n":12,"c":"B","x":19,"y":0.29},{"n":12,"c":"B","x":22,"y":0.32},{"n":12,"c":"B","x":25,"y":0.34},{"n":12,"c":"B","x":27,"y":0.3},{"n":12,"c":"B","x":29,"y":0.26},{"n":12,"c":"B","x":31,"y":0.32},
{"n":9,"c":"B","x":-7,"y":0.07},{"n":9,"c":"B","x":-4,"y":0.13},{"n":9,"c":"B","x":-1,"y":0.18},{"n":9,"c":"B","x":1,"y":0.23},{"n":9,"c":"B","x":4,"y":0.23},{"n":9,"c":"B","x":7,"y":0.25},{"n":9,"c":"B","x":10,"y":0.24},{"n":9,"c":"B","x":13,"y":0.25},{"n":9,"c":"B","x":15,"y":0.22},{"n":9,"c":"B","x":16,"y":0.3},{"n":9,"c":"B","x":19,"y":0.33},{"n":9,"c":"B","x":22,"y":0.21},{"n":9,"c":"B","x":25,"y":0.34},{"n":9,"c":"B","x":27,"y":0.3},{"n":9,"c":"B","x":29,"y":0.16},{"n":9,"c":"B","x":31,"y":0.32}
],
"F":[
{"n":18,"c":"R","x":-16,"y":-0.07},{"n":18,"c":"R","x":-13,"y":-0.1},{"n":18,"c":"R","x":-10,"y":0.12},{"n":18,"c":"R","x":-7,"y":0.22},{"n":18,"c":"R","x":-4,"y":0.33},{"n":18,"c":"R","x":-1,"y":0.25},{"n":18,"c":"R","x":1,"y":0.3},{"n":18,"c":"R","x":4,"y":0.26},{"n":18,"c":"R","x":7,"y":0.24},{"n":18,"c":"R","x":10,"y":0.23},{"n":18,"c":"R","x":13,"y":0.24},{"n":18,"c":"R","x":15,"y":0.2},{"n":18,"c":"R","x":16,"y":0.34},{"n":18,"c":"R","x":19,"y":0.22},{"n":18,"c":"R","x":22,"y":0.38},{"n":18,"c":"R","x":25,"y":0.3},{"n":18,"c":"R","x":27,"y":0.32},{"n":18,"c":"R","x":29,"y":0.3},{"n":18,"c":"R","x":31,"y":0.28},
{"n":15,"c":"R","x":-13,"y":-0.1},{"n":15,"c":"R","x":-10,"y":-0.12},{"n":15,"c":"R","x":-7,"y":-0.05},{"n":15,"c":"R","x":-4,"y":0.05},{"n":15,"c":"R","x":-1,"y":0.2},{"n":15,"c":"R","x":1,"y":0.25},{"n":15,"c":"R","x":4,"y":0.3},{"n":15,"c":"R","x":7,"y":0.27},{"n":15,"c":"R","x":10,"y":0.25},{"n":15,"c":"R","x":13,"y":0.24},{"n":15,"c":"R","x":15,"y":0.22},{"n":15,"c":"R","x":16,"y":0.18},{"n":15,"c":"R","x":19,"y":0.22},{"n":15,"c":"R","x":22,"y":0.27},{"n":15,"c":"R","x":25,"y":0.35},{"n":15,"c":"R","x":27,"y":0.36},{"n":15,"c":"R","x":29,"y":0.33},{"n":15,"c":"R","x":31,"y":0.31},
{"n":12,"c":"R","x":-10,"y":-0.12},{"n":12,"c":"R","x":-7,"y":-0.1},{"n":12,"c":"R","x":-4,"y":0.1},{"n":12,"c":"R","x":-1,"y":0.22},{"n":12,"c":"R","x":1,"y":0.27},{"n":12,"c":"R","x":4,"y":0.3},{"n":12,"c":"R","x":7,"y":0.28},{"n":12,"c":"R","x":10,"y":0.25},{"n":12,"c":"R","x":13,"y":0.28},{"n":12,"c":"R","x":15,"y":0.25},{"n":12,"c":"R","x":16,"y":0.2},{"n":12,"c":"R","x":19,"y":0.25},{"n":12,"c":"R","x":22,"y":0.28},{"n":12,"c":"R","x":25,"y":0.32},{"n":12,"c":"R","x":27,"y":0.38},{"n":12,"c":"R","x":29,"y":0.34},{"n":12,"c":"R","x":31,"y":0.3},
{"n":9,"c":"R","x":-7,"y":-0.08},{"n":9,"c":"R","x":-4,"y":-0.05},{"n":9,"c":"R","x":-1,"y":0.18},{"n":9,"c":"R","x":1,"y":0.24},{"n":9,"c":"R","x":4,"y":0.27},{"n":9,"c":"R","x":7,"y":0.29},{"n":9,"c":"R","x":10,"y":0.27},{"n":9,"c":"R","x":13,"y":0.27},{"n":9,"c":"R","x":15,"y":0.28},{"n":9,"c":"R","x":16,"y":0.2},{"n":9,"c":"R","x":19,"y":0.22},{"n":9,"c":"R","x":22,"y":0.24},{"n":9,"c":"R","x":25,"y":0.27},{"n":9,"c":"R","x":27,"y":0.3},{"n":9,"c":"R","x":29,"y":0.3},{"n":9,"c":"R","x":31,"y":0.28},
{"n":18,"c":"G","x":-16,"y":-0.07},{"n":18,"c":"G","x":-13,"y":-0.1},{"n":18,"c":"G","x":-10,"y":0.08},{"n":18,"c":"G","x":-7,"y":0.2},{"n":18,"c":"G","x":-4,"y":0.24},{"n":18,"c":"G","x":-1,"y":0.22},{"n":18,"c":"G","x":1,"y":0.25},{"n":18,"c":"G","x":4,"y":0.23},{"n":18,"c":"G","x":7,"y":0.22},{"n":18,"c":"G","x":10,"y":0.22},{"n":18,"c":"G","x":13,"y":0.2},{"n":18,"c":"G","x":15,"y":0.19},{"n":18,"c":"G","x":16,"y":0.22},{"n":18,"c":"G","x":19,"y":0.18},{"n":18,"c":"G","x":22,"y":0.22},{"n":18,"c":"G","x":25,"y":0.25},{"n":18,"c":"G","x":27,"y":0.3},{"n":18,"c":"G","x":29,"y":0.25},{"n":18,"c":"G","x":31,"y":0.2},
{"n":15,"c":"G","x":-13,"y":-0.08},{"n":15,"c":"G","x":-10,"y":-0.05},{"n":15,"c":"G","x":-7,"y":0.18},{"n":15,"c":"G","x":-4,"y":0.2},{"n":15,"c":"G","x":-1,"y":0.24},{"n":15,"c":"G","x":1,"y":0.27},{"n":15,"c":"G","x":4,"y":0.2},{"n":15,"c":"G","x":7,"y":0.17},{"n":15,"c":"G","x":10,"y":0.16},{"n":15,"c":"G","x":13,"y":0.16},{"n":15,"c":"G","x":15,"y":0.15},{"n":15,"c":"G","x":16,"y":0.12},{"n":15,"c":"G","x":19,"y":0.2},{"n":15,"c":"G","x":22,"y":0.23},{"n":15,"c":"G","x":25,"y":0.27},{"n":15,"c":"G","x":27,"y":0.33},{"n":15,"c":"G","x":29,"y":0.25},{"n":15,"c":"G","x":31,"y":0.22},
{"n":12,"c":"G","x":-10,"y":-0.12},{"n":12,"c":"G","x":-7,"y":-0.08},{"n":12,"c":"G","x":-4,"y":0.05},{"n":12,"c":"G","x":-1,"y":0.12},{"n":12,"c":"G","x":1,"y":0.15},{"n":12,"c":"G","x":4,"y":0.15},{"n":12,"c":"G","x":7,"y":0.16},{"n":12,"c":"G","x":10,"y":0.14},{"n":12,"c":"G","x":13,"y":0.15},{"n":12,"c":"G","x":15,"y":0.14},{"n":12,"c":"G","x":16,"y":0.1},{"n":12,"c":"G","x":19,"y":0.2},{"n":12,"c":"G","x":22,"y":0.25},{"n":12,"c":"G","x":25,"y":0.18},{"n":12,"c":"G","x":27,"y":0.2},{"n":12,"c":"G","x":29,"y":0.17},{"n":12,"c":"G","x":31,"y":0.18},
{"n":9,"c":"G","x":-7,"y":-0.08},{"n":9,"c":"G","x":-4,"y":-0.05},{"n":9,"c":"G","x":-1,"y":0.05},{"n":9,"c":"G","x":1,"y":0.1},{"n":9,"c":"G","x":4,"y":0.12},{"n":9,"c":"G","x":7,"y":0.13},{"n":9,"c":"G","x":10,"y":0.12},{"n":9,"c":"G","x":13,"y":0.14},{"n":9,"c":"G","x":15,"y":0.13},{"n":9,"c":"G","x":16,"y":0.12},{"n":9,"c":"G","x":19,"y":0.16},{"n":9,"c":"G","x":22,"y":0.2},{"n":9,"c":"G","x":25,"y":0.2},{"n":9,"c":"G","x":27,"y":0.18},{"n":9,"c":"G","x":29,"y":0.2},{"n":9,"c":"G","x":31,"y":0.23},
{"n":18,"c":"O","x":-16,"y":-0.05},{"n":18,"c":"O","x":-13,"y":-0.1},{"n":18,"c":"O","x":-10,"y":0.05},{"n":18,"c":"O","x":-7,"y":0.12},{"n":18,"c":"O","x":-4,"y":0.18},{"n":18,"c":"O","x":-1,"y":0.14},{"n":18,"c":"O","x":1,"y":0.17},{"n":18,"c":"O","x":4,"y":0.12},{"n":18,"c":"O","x":7,"y":0.11},{"n":18,"c":"O","x":10,"y":0.1},{"n":18,"c":"O","x":13,"y":0.11},{"n":18,"c":"O","x":15,"y":0.1},{"n":18,"c":"O","x":16,"y":0.02},{"n":18,"c":"O","x":19,"y":0.1},{"n":18,"c":"O","x":22,"y":0.15},{"n":18,"c":"O","x":25,"y":0.17},{"n":18,"c":"O","x":27,"y":0.17},{"n":18,"c":"O","x":29,"y":0.13},{"n":18,"c":"O","x":31,"y":0.12},
{"n":15,"c":"O","x":-13,"y":-0.1},{"n":15,"c":"O","x":-10,"y":-0.08},{"n":15,"c":"O","x":-7,"y":-0.02},{"n":15,"c":"O","x":-4,"y":0.02},{"n":15,"c":"O","x":-1,"y":0.1},{"n":15,"c":"O","x":1,"y":0.15},{"n":15,"c":"O","x":4,"y":0.1},{"n":15,"c":"O","x":7,"y":0.09},{"n":15,"c":"O","x":10,"y":0.09},{"n":15,"c":"O","x":13,"y":0.11},{"n":15,"c":"O","x":15,"y":0.08},{"n":15,"c":"O","x":16,"y":-0.02},{"n":15,"c":"O","x":19,"y":0.09},{"n":15,"c":"O","x":22,"y":0.13},{"n":15,"c":"O","x":25,"y":0.15},{"n":15,"c":"O","x":27,"y":0.18},{"n":15,"c":"O","x":29,"y":0.15},{"n":15,"c":"O","x":31,"y":0.14},
{"n":12,"c":"O","x":-10,"y":-0.1},{"n":12,"c":"O","x":-7,"y":-0.12},{"n":12,"c":"O","x":-4,"y":-0.1},{"n":12,"c":"O","x":-1,"y":0.05},{"n":12,"c":"O","x":1,"y":0.07},{"n":12,"c":"O","x":4,"y":0.05},{"n":12,"c":"O","x":7,"y":0.06},{"n":12,"c":"O","x":10,"y":0.05},{"n":12,"c":"O","x":13,"y":0.05},{"n":12,"c":"O","x":15,"y":0.07},{"n":12,"c":"O","x":16,"y":-0.04},{"n":12,"c":"O","x":19,"y":0.07},{"n":12,"c":"O","x":22,"y":0.1},{"n":12,"c":"O","x":25,"y":0.14},{"n":12,"c":"O","x":27,"y":0.12},{"n":12,"c":"O","x":29,"y":0.1},{"n":12,"c":"O","x":31,"y":0.1},
{"n":9,"c":"O","x":-7,"y":-0.12},{"n":9,"c":"O","x":-4,"y":-0.1},{"n":9,"c":"O","x":-1,"y":0.05},{"n":9,"c":"O","x":1,"y":0.08},{"n":9,"c":"O","x":4,"y":0.06},{"n":9,"c":"O","x":7,"y":0.05},{"n":9,"c":"O","x":10,"y":0.05},{"n":9,"c":"O","x":13,"y":0.06},{"n":9,"c":"O","x":15,"y":0.07},{"n":9,"c":"O","x":16,"y":-0.02},{"n":9,"c":"O","x":19,"y":0.06},{"n":9,"c":"O","x":22,"y":0.08},{"n":9,"c":"O","x":25,"y":0.1},{"n":9,"c":"O","x":27,"y":0.13},{"n":9,"c":"O","x":29,"y":0.12},{"n":9,"c":"O","x":31,"y":0.12},
{"n":18,"c":"B","x":-16,"y":-0.01},{"n":18,"c":"B","x":-13,"y":-0.13},{"n":18,"c":"B","x":-10,"y":-0.05},{"n":18,"c":"B","x":-7,"y":-0.05},{"n":18,"c":"B","x":-4,"y":-0.08},{"n":18,"c":"B","x":-1,"y":-0.02},{"n":18,"c":"B","x":1,"y":-0.02},{"n":18,"c":"B","x":4,"y":-0.05},{"n":18,"c":"B","x":7,"y":-0.03},{"n":18,"c":"B","x":10,"y":-0.05},{"n":18,"c":"B","x":13,"y":-0.04},{"n":18,"c":"B","x":15,"y":-0.05},{"n":18,"c":"B","x":16,"y":-0.27},{"n":18,"c":"B","x":19,"y":-0.05},{"n":18,"c":"B","x":22,"y":-0.08},{"n":18,"c":"B","x":25,"y":-0.02},{"n":18,"c":"B","x":27,"y":-0.04},{"n":18,"c":"B","x":29,"y":-0.06},{"n":18,"c":"B","x":31,"y":-0.06},
{"n":15,"c":"B","x":-13,"y":-0.2},{"n":15,"c":"B","x":-10,"y":-0.28},{"n":15,"c":"B","x":-7,"y":-0.2},{"n":15,"c":"B","x":-4,"y":-0.15},{"n":15,"c":"B","x":-1,"y":-0.05},{"n":15,"c":"B","x":1,"y":0},{"n":15,"c":"B","x":4,"y":-0.02},{"n":15,"c":"B","x":7,"y":0},{"n":15,"c":"B","x":10,"y":-0.05},{"n":15,"c":"B","x":13,"y":-0.1},{"n":15,"c":"B","x":15,"y":-0.07},{"n":15,"c":"B","x":16,"y":-0.08},{"n":15,"c":"B","x":19,"y":-0.02},{"n":15,"c":"B","x":22,"y":-0.06},{"n":15,"c":"B","x":25,"y":-0.05},{"n":15,"c":"B","x":27,"y":-0.03},{"n":15,"c":"B","x":29,"y":-0.05},{"n":15,"c":"B","x":31,"y":-0.06},
{"n":12,"c":"B","x":-10,"y":-0.2},{"n":12,"c":"B","x":-7,"y":-0.15},{"n":12,"c":"B","x":-4,"y":-0.12},{"n":12,"c":"B","x":-1,"y":-0.15},{"n":12,"c":"B","x":1,"y":-0.08},{"n":12,"c":"B","x":4,"y":-0.07},{"n":12,"c":"B","x":7,"y":-0.04},{"n":12,"c":"B","x":10,"y":-0.03},{"n":12,"c":"B","x":13,"y":-0.02},{"n":12,"c":"B","x":15,"y":0},{"n":12,"c":"B","x":16,"y":-0.1},{"n":12,"c":"B","x":19,"y":-0.08},{"n":12,"c":"B","x":22,"y":-0.05},{"n":12,"c":"B","x":25,"y":-0.03},{"n":12,"c":"B","x":27,"y":-0.06},{"n":12,"c":"B","x":29,"y":-0.04},{"n":12,"c":"B","x":31,"y":-0.05},
{"n":9,"c":"B","x":-7,"y":-0.08},{"n":9,"c":"B","x":-4,"y":-0.1},{"n":9,"c":"B","x":-1,"y":0},{"n":9,"c":"B","x":1,"y":0.02},{"n":9,"c":"B","x":4,"y":-0.02},{"n":9,"c":"B","x":7,"y":-0.02},{"n":9,"c":"B","x":10,"y":-0.01},{"n":9,"c":"B","x":13,"y":-0.03},{"n":9,"c":"B","x":15,"y":-0.02},{"n":9,"c":"B","x":16,"y":-0.05},{"n":9,"c":"B","x":19,"y":-0.07},{"n":9,"c":"B","x":22,"y":-0.05},{"n":9,"c":"B","x":25,"y":-0.12},{"n":9,"c":"B","x":27,"y":-0.05},{"n":9,"c":"B","x":29,"y":-0.03},{"n":9,"c":"B","x":31,"y":-0.06}
],
"G":[
{"n":18,"c":"R","x":-16,"y":0.07},{"n":18,"c":"R","x":-13,"y":0.24},{"n":18,"c":"R","x":-10,"y":0.2},{"n":18,"c":"R","x":-7,"y":0.33},{"n":18,"c":"R","x":-4,"y":0.38},{"n":18,"c":"R","x":-1,"y":0.33},{"n":18,"c":"R","x":1,"y":0.3},{"n":18,"c":"R","x":4,"y":0.3},{"n":18,"c":"R","x":7,"y":0.28},{"n":18,"c":"R","x":10,"y":0.3},{"n":18,"c":"R","x":13,"y":0.3},{"n":18,"c":"R","x":15,"y":0.3},{"n":18,"c":"R","x":16,"y":0.3},{"n":18,"c":"R","x":19,"y":0.27},{"n":18,"c":"R","x":22,"y":0.3},{"n":18,"c":"R","x":25,"y":0.32},{"n":18,"c":"R","x":27,"y":0.33},{"n":18,"c":"R","x":29,"y":0.3},{"n":18,"c":"R","x":31,"y":0.3},
{"n":15,"c":"R","x":-13,"y":0.1},{"n":15,"c":"R","x":-10,"y":0.12},{"n":15,"c":"R","x":-7,"y":0.2},{"n":15,"c":"R","x":-4,"y":0.28},{"n":15,"c":"R","x":-1,"y":0.32},{"n":15,"c":"R","x":1,"y":0.5},{"n":15,"c":"R","x":4,"y":0.33},{"n":15,"c":"R","x":7,"y":0.35},{"n":15,"c":"R","x":10,"y":0.37},{"n":15,"c":"R","x":13,"y":0.36},{"n":15,"c":"R","x":15,"y":0.38},{"n":15,"c":"R","x":16,"y":0.35},{"n":15,"c":"R","x":19,"y":0.33},{"n":15,"c":"R","x":22,"y":0.37},{"n":15,"c":"R","x":25,"y":0.38},{"n":15,"c":"R","x":27,"y":0.42},{"n":15,"c":"R","x":29,"y":0.37},{"n":15,"c":"R","x":31,"y":0.33},
{"n":12,"c":"R","x":-10,"y":0.08},{"n":12,"c":"R","x":-7,"y":0.15},{"n":12,"c":"R","x":-4,"y":0.25},{"n":12,"c":"R","x":-1,"y":0.3},{"n":12,"c":"R","x":1,"y":0.35},{"n":12,"c":"R","x":4,"y":0.36},{"n":12,"c":"R","x":7,"y":0.38},{"n":12,"c":"R","x":10,"y":0.37},{"n":12,"c":"R","x":13,"y":0.38},{"n":12,"c":"R","x":15,"y":0.39},{"n":12,"c":"R","x":16,"y":0.34},{"n":12,"c":"R","x":19,"y":0.43},{"n":12,"c":"R","x":22,"y":0.35},{"n":12,"c":"R","x":25,"y":0.42},{"n":12,"c":"R","x":27,"y":0.4},{"n":12,"c":"R","x":29,"y":0.38},{"n":12,"c":"R","x":31,"y":0.35},
{"n":9,"c":"R","x":-7,"y":0.05},{"n":9,"c":"R","x":-4,"y":0.2},{"n":9,"c":"R","x":-1,"y":0.28},{"n":9,"c":"R","x":1,"y":0.3},{"n":9,"c":"R","x":4,"y":0.31},{"n":9,"c":"R","x":7,"y":0.3},{"n":9,"c":"R","x":10,"y":0.3},{"n":9,"c":"R","x":13,"y":0.31},{"n":9,"c":"R","x":15,"y":0.3},{"n":9,"c":"R","x":16,"y":0.28},{"n":9,"c":"R","x":19,"y":0.3},{"n":9,"c":"R","x":22,"y":0.32},{"n":9,"c":"R","x":25,"y":0.34},{"n":9,"c":"R","x":27,"y":0.33},{"n":9,"c":"R","x":29,"y":0.38},{"n":9,"c":"R","x":31,"y":0.33},
{"n":18,"c":"G","x":-16,"y":0.07},{"n":18,"c":"G","x":-13,"y":0.24},{"n":18,"c":"G","x":-10,"y":0.2},{"n":18,"c":"G","x":-7,"y":0.3},{"n":18,"c":"G","x":-4,"y":0.33},{"n":18,"c":"G","x":-1,"y":0.28},{"n":18,"c":"G","x":1,"y":0.3},{"n":18,"c":"G","x":4,"y":0.3},{"n":18,"c":"G","x":7,"y":0.29},{"n":18,"c":"G","x":10,"y":0.28},{"n":18,"c":"G","x":13,"y":0.28},{"n":18,"c":"G","x":15,"y":0.29},{"n":18,"c":"G","x":16,"y":0.3},{"n":18,"c":"G","x":19,"y":0.22},{"n":18,"c":"G","x":22,"y":0.33},{"n":18,"c":"G","x":25,"y":0.38},{"n":18,"c":"G","x":27,"y":0.3},{"n":18,"c":"G","x":29,"y":0.28},{"n":18,"c":"G","x":31,"y":0.3},
{"n":15,"c":"G","x":-13,"y":0.08},{"n":15,"c":"G","x":-10,"y":0.18},{"n":15,"c":"G","x":-7,"y":0.22},{"n":15,"c":"G","x":-4,"y":0.27},{"n":15,"c":"G","x":-1,"y":0.3},{"n":15,"c":"G","x":1,"y":0.35},{"n":15,"c":"G","x":4,"y":0.32},{"n":15,"c":"G","x":7,"y":0.33},{"n":15,"c":"G","x":10,"y":0.33},{"n":15,"c":"G","x":13,"y":0.32},{"n":15,"c":"G","x":15,"y":0.3},{"n":15,"c":"G","x":16,"y":0.28},{"n":15,"c":"G","x":19,"y":0.3},{"n":15,"c":"G","x":22,"y":0.32},{"n":15,"c":"G","x":25,"y":0.4},{"n":15,"c":"G","x":27,"y":0.38},{"n":15,"c":"G","x":29,"y":0.35},{"n":15,"c":"G","x":31,"y":0.33},
{"n":12,"c":"G","x":-10,"y":0.05},{"n":12,"c":"G","x":-7,"y":0.16},{"n":12,"c":"G","x":-4,"y":0.22},{"n":12,"c":"G","x":-1,"y":0.27},{"n":12,"c":"G","x":1,"y":0.28},{"n":12,"c":"G","x":4,"y":0.26},{"n":12,"c":"G","x":7,"y":0.27},{"n":12,"c":"G","x":10,"y":0.26},{"n":12,"c":"G","x":13,"y":0.25},{"n":12,"c":"G","x":15,"y":0.25},{"n":12,"c":"G","x":16,"y":0.22},{"n":12,"c":"G","x":19,"y":0.24},{"n":12,"c":"G","x":22,"y":0.27},{"n":12,"c":"G","x":25,"y":0.3},{"n":12,"c":"G","x":27,"y":0.3},{"n":12,"c":"G","x":29,"y":0.28},{"n":12,"c":"G","x":31,"y":0.34},
{"n":9,"c":"G","x":-7,"y":0.05},{"n":9,"c":"G","x":-4,"y":0.15},{"n":9,"c":"G","x":-1,"y":0.22},{"n":9,"c":"G","x":1,"y":0.25},{"n":9,"c":"G","x":4,"y":0.27},{"n":9,"c":"G","x":7,"y":0.28},{"n":9,"c":"G","x":10,"y":0.28},{"n":9,"c":"G","x":13,"y":0.28},{"n":9,"c":"G","x":15,"y":0.27},{"n":9,"c":"G","x":16,"y":0.24},{"n":9,"c":"G","x":19,"y":0.26},{"n":9,"c":"G","x":22,"y":0.27},{"n":9,"c":"G","x":25,"y":0.25},{"n":9,"c":"G","x":27,"y":0.28},{"n":9,"c":"G","x":29,"y":0.3},{"n":9,"c":"G","x":31,"y":0.35},
{"n":18,"c":"O","x":-16,"y":0.06},{"n":18,"c":"O","x":-13,"y":0.2},{"n":18,"c":"O","x":-10,"y":0.19},{"n":18,"c":"O","x":-7,"y":0.25},{"n":18,"c":"O","x":-4,"y":0.28},{"n":18,"c":"O","x":-1,"y":0.26},{"n":18,"c":"O","x":1,"y":0.27},{"n":18,"c":"O","x":4,"y":0.26},{"n":18,"c":"O","x":7,"y":0.25},{"n":18,"c":"O","x":10,"y":0.26},{"n":18,"c":"O","x":13,"y":0.27},{"n":18,"c":"O","x":15,"y":0.26},{"n":18,"c":"O","x":16,"y":0.26},{"n":18,"c":"O","x":19,"y":0.24},{"n":18,"c":"O","x":22,"y":0.28},{"n":18,"c":"O","x":25,"y":0.3},{"n":18,"c":"O","x":27,"y":0.28},{"n":18,"c":"O","x":29,"y":0.3},{"n":18,"c":"O","x":31,"y":0.29},
{"n":15,"c":"O","x":-13,"y":0.09},{"n":15,"c":"O","x":-10,"y":0.15},{"n":15,"c":"O","x":-7,"y":0.18},{"n":15,"c":"O","x":-4,"y":0.24},{"n":15,"c":"O","x":-1,"y":0.26},{"n":15,"c":"O","x":1,"y":0.27},{"n":15,"c":"O","x":4,"y":0.3},{"n":15,"c":"O","x":7,"y":0.29},{"n":15,"c":"O","x":10,"y":0.29},{"n":15,"c":"O","x":13,"y":0.28},{"n":15,"c":"O","x":15,"y":0.28},{"n":15,"c":"O","x":16,"y":0.27},{"n":15,"c":"O","x":19,"y":0.32},{"n":15,"c":"O","x":22,"y":0.3},{"n":15,"c":"O","x":25,"y":0.3},{"n":15,"c":"O","x":27,"y":0.27},{"n":15,"c":"O","x":29,"y":0.29},{"n":15,"c":"O","x":31,"y":0.28},
{"n":12,"c":"O","x":-10,"y":0.06},{"n":12,"c":"O","x":-7,"y":0.13},{"n":12,"c":"O","x":-4,"y":0.18},{"n":12,"c":"O","x":-1,"y":0.22},{"n":12,"c":"O","x":1,"y":0.24},{"n":12,"c":"O","x":4,"y":0.24},{"n":12,"c":"O","x":7,"y":0.25},{"n":12,"c":"O","x":10,"y":0.24},{"n":12,"c":"O","x":13,"y":0.24},{"n":12,"c":"O","x":15,"y":0.22},{"n":12,"c":"O","x":16,"y":0.2},{"n":12,"c":"O","x":19,"y":0.18},{"n":12,"c":"O","x":22,"y":0.24},{"n":12,"c":"O","x":25,"y":0.25},{"n":12,"c":"O","x":27,"y":0.27},{"n":12,"c":"O","x":29,"y":0.27},{"n":12,"c":"O","x":31,"y":0.28},
{"n":9,"c":"O","x":-7,"y":0.05},{"n":9,"c":"O","x":-4,"y":0.14},{"n":9,"c":"O","x":-1,"y":0.2},{"n":9,"c":"O","x":1,"y":0.22},{"n":9,"c":"O","x":4,"y":0.23},{"n":9,"c":"O","x":7,"y":0.23},{"n":9,"c":"O","x":10,"y":0.22},{"n":9,"c":"O","x":13,"y":0.22},{"n":9,"c":"O","x":15,"y":0.22},{"n":9,"c":"O","x":16,"y":0.2},{"n":9,"c":"O","x":19,"y":0.22},{"n":9,"c":"O","x":22,"y":0.24},{"n":9,"c":"O","x":25,"y":0.26},{"n":9,"c":"O","x":27,"y":0.26},{"n":9,"c":"O","x":29,"y":0.27},{"n":9,"c":"O","x":31,"y":0.27},
{"n":18,"c":"B","x":-16,"y":0.02},{"n":18,"c":"B","x":-13,"y":0.2},{"n":18,"c":"B","x":-10,"y":0.2},{"n":18,"c":"B","x":-7,"y":0.22},{"n":18,"c":"B","x":-4,"y":0.22},{"n":18,"c":"B","x":-1,"y":0.2},{"n":18,"c":"B","x":1,"y":0.21},{"n":18,"c":"B","x":4,"y":0.2},{"n":18,"c":"B","x":7,"y":0.21},{"n":18,"c":"B","x":10,"y":0.21},{"n":18,"c":"B","x":13,"y":0.21},{"n":18,"c":"B","x":15,"y":0.22},{"n":18,"c":"B","x":16,"y":0.2},{"n":18,"c":"B","x":19,"y":0.21},{"n":18,"c":"B","x":22,"y":0.22},{"n":18,"c":"B","x":25,"y":0.24},{"n":18,"c":"B","x":27,"y":0.23},{"n":18,"c":"B","x":29,"y":0.24},{"n":18,"c":"B","x":31,"y":0.24},
{"n":15,"c":"B","x":-13,"y":0.06},{"n":15,"c":"B","x":-10,"y":0.2},{"n":15,"c":"B","x":-7,"y":0.18},{"n":15,"c":"B","x":-4,"y":0.2},{"n":15,"c":"B","x":-1,"y":0.2},{"n":15,"c":"B","x":1,"y":0.2},{"n":15,"c":"B","x":4,"y":0.19},{"n":15,"c":"B","x":7,"y":0.2},{"n":15,"c":"B","x":10,"y":0.21},{"n":15,"c":"B","x":13,"y":0.21},{"n":15,"c":"B","x":15,"y":0.2},{"n":15,"c":"B","x":16,"y":0.19},{"n":15,"c":"B","x":19,"y":0.22},{"n":15,"c":"B","x":22,"y":0.24},{"n":15,"c":"B","x":25,"y":0.23},{"n":15,"c":"B","x":27,"y":0.22},{"n":15,"c":"B","x":29,"y":0.2},{"n":15,"c":"B","x":31,"y":0.21},
{"n":12,"c":"B","x":-10,"y":0.05},{"n":12,"c":"B","x":-7,"y":0.15},{"n":12,"c":"B","x":-4,"y":0.17},{"n":12,"c":"B","x":-1,"y":0.21},{"n":12,"c":"B","x":1,"y":0.19},{"n":12,"c":"B","x":4,"y":0.2},{"n":12,"c":"B","x":7,"y":0.2},{"n":12,"c":"B","x":10,"y":0.19},{"n":12,"c":"B","x":13,"y":0.18},{"n":12,"c":"B","x":15,"y":0.18},{"n":12,"c":"B","x":16,"y":0.18},{"n":12,"c":"B","x":19,"y":0.2},{"n":12,"c":"B","x":22,"y":0.22},{"n":12,"c":"B","x":25,"y":0.23},{"n":12,"c":"B","x":27,"y":0.2},{"n":12,"c":"B","x":29,"y":0.22},{"n":12,"c":"B","x":31,"y":0.2},
{"n":9,"c":"B","x":-7,"y":0.04},{"n":9,"c":"B","x":-4,"y":0.13},{"n":9,"c":"B","x":-1,"y":0.19},{"n":9,"c":"B","x":1,"y":0.2},{"n":9,"c":"B","x":4,"y":0.2},{"n":9,"c":"B","x":7,"y":0.2},{"n":9,"c":"B","x":10,"y":0.19},{"n":9,"c":"B","x":13,"y":0.19},{"n":9,"c":"B","x":15,"y":0.19},{"n":9,"c":"B","x":16,"y":0.18},{"n":9,"c":"B","x":19,"y":0.19},{"n":9,"c":"B","x":22,"y":0.2},{"n":9,"c":"B","x":25,"y":0.16},{"n":9,"c":"B","x":27,"y":0.2},{"n":9,"c":"B","x":29,"y":0.12},{"n":9,"c":"B","x":31,"y":0.21}
],
"D":[
{"lvl":"Lowest","m":0.0044,"lo":0.0025,"hi":0.0063,"f":0.00421},
{"lvl":"2nd lowest","m":0.0084,"lo":0.00705,"hi":0.0098,"f":0.00838},
{"lvl":"2nd highest","m":0.012,"lo":0.01,"hi":0.0141,"f":0.01254},
{"lvl":"Highest","m":0.017,"lo":0.0152,"hi":0.0188,"f":0.01671}
],
"DT":[{"t":"β = 0.004","y":0.0166},{"t":"p = 0.000","y":0.0149}],
"V":[{"t":"Value level"}]
},
"columns":7,
"align":"each",
"bounds":"flush",
"spacing":{"row":68.4,"column":0},
"concat":[
{
 "width":301,"height":241.3,
 "title":{"text":"Expected value","offset":-24},
 "encoding":{"x":{"field":"x","type":"quantitative","scale":{"domain":[-20,35],"nice":false,"zero":false},"axis":{"values":[-20,-15,-10,-5,0,5,10,15,20,25,30,35],"labels":false,"title":null}}},
 "layer":[
  {"data":{"name":"S"},"mark":{"type":"rect","color":"#e5e5e5"},"encoding":{"x2":{"field":"x2"}}},
  {"data":{"name":"A"},"mark":{"type":"line"},"encoding":{
   "y":{"field":"y","type":"quantitative","scale":{"domain":[-1.7,30],"nice":false,"zero":false},"axis":{"values":[0,10,20,30],"title":"A","titleX":-38.7,"titleY":-12}},
   "color":{"field":"c","type":"nominal","scale":{"domain":["R","G","O","B"],"range":["#d62728","#2ca02c","#ff7f0e","#1f77b4"]},"legend":null},
   "strokeDash":{"field":"n","type":"nominal","scale":{"domain":[18,15,12,9],"range":[[1,0],[20.5,5.2,3.2,5.2],[12,5.2],[3.2,5.3]]}}}},
  {"data":{"name":"P"},"mark":{"type":"text","fontSize":18.6,"baseline":"alphabetic","dy":-3.5,"color":"#000"},"encoding":{"y":{"datum":-1.7},"text":{"field":"t"}}}
 ]
},
{"width":54,"height":1,"view":{"stroke":null},"data":{"values":[]},"mark":"point"},
{
 "width":302.3,"height":241.3,
 "title":{"text":"Model performance","offset":-24},
 "encoding":{"x":{"field":"x","type":"quantitative","scale":{"domain":[-20,35],"nice":false,"zero":false},"axis":{"values":[-20,-15,-10,-5,0,5,10,15,20,25,30,35],"labels":false,"title":null}}},
 "layer":[
  {"data":{"name":"S"},"mark":{"type":"rect","color":"#e5e5e5"},"encoding":{"x2":{"field":"x2"}}},
  {"data":{"name":"B"},"mark":{"type":"line","color":"#555555","opacity":0.9},"encoding":{
   "y":{"field":"y","type":"quantitative","scale":{"domain":[0.452,0.8],"nice":false,"zero":false},"axis":{"values":[0.5,0.6,0.7,0.8],"format":".1f","title":"B","titleX":-33.7,"titleY":-12}},
   "strokeDash":{"field":"n","type":"nominal","scale":{"domain":[18,15,12,9],"range":[[1,0],[20.5,5.2,3.2,5.2],[12,5.2],[3.2,5.3]]}}}},
  {"data":{"name":"P"},"mark":{"type":"text","fontSize":18.6,"baseline":"alphabetic","dy":-3.5,"color":"#000"},"encoding":{"y":{"datum":0.452},"text":{"field":"t"}}}
 ]
},
{"width":52.7,"height":1,"view":{"stroke":null},"data":{"values":[]},"mark":"point"},
{
 "width":301,"height":241.3,
 "title":{"text":"Model confidence","offset":-24},
 "encoding":{"x":{"field":"x","type":"quantitative","scale":{"domain":[-20,35],"nice":false,"zero":false},"axis":{"values":[-20,-15,-10,-5,0,5,10,15,20,25,30,35],"labels":false,"title":null}}},
 "layer":[
  {"data":{"name":"S"},"mark":{"type":"rect","color":"#e5e5e5"},"encoding":{"x2":{"field":"x2"}}},
  {"data":{"name":"C"},"mark":{"type":"line"},"encoding":{
   "y":{"field":"y","type":"quantitative","scale":{"domain":[0,1],"nice":false,"zero":false},"axis":{"values":[0,0.2,0.4,0.6,0.8,1],"format":".1f","title":"C","titleX":-38.7,"titleY":-12}},
   "color":{"field":"c","type":"nominal","scale":{"domain":["R","G","O","B"],"range":["#d62728","#2ca02c","#ff7f0e","#1f77b4"]},"legend":null},
   "strokeDash":{"field":"n","type":"nominal","scale":{"domain":[18,15,12,9],"range":[[1,0],[20.5,5.2,3.2,5.2],[12,5.2],[3.2,5.3]]}}}},
  {"data":{"name":"K"},"mark":{"type":"line","color":"#222222","opacity":0.7},"encoding":{
   "y":{"field":"y","type":"quantitative"},
   "strokeDash":{"field":"n","type":"nominal","scale":{"domain":[18,15,12,9],"range":[[1,0],[20.5,5.2,3.2,5.2],[12,5.2],[3.2,5.3]]}}}},
  {"data":{"name":"P"},"mark":{"type":"text","fontSize":18.6,"baseline":"alphabetic","dy":-3.5,"color":"#000"},"encoding":{"y":{"datum":0},"text":{"field":"t"}}}
 ]
},
{"width":68.3,"height":1,"view":{"stroke":null},"data":{"values":[]},"mark":"point"},
{
 "width":221.3,"height":241.3,
 "title":{"text":"Confidence slopes","offset":-24},
 "data":{"name":"D"},
 "layer":[
  {"mark":{"type":"bar","opacity":0.55},"encoding":{
   "x":{"field":"lvl","type":"nominal","scale":{"domain":["Lowest","2nd lowest","2nd highest","Highest"],"paddingInner":0.2,"paddingOuter":0.2},"axis":{"labelAngle":0,"labelExpr":"split(datum.label,' ')","labelLineHeight":15,"labelPadding":1.2,"labelAlign":{"condition":{"test":"datum.value == '2nd highest'","value":"left"},"value":"center"},"labelOffset":{"condition":{"test":"datum.value == '2nd highest'","value":-18},"value":0},"title":"CS value level","titleY":63.4,"titleBaseline":"alphabetic"}},
   "y":{"field":"m","type":"quantitative","scale":{"domain":[0,0.0191],"nice":false,"zero":false},"axis":{"values":[0,0.005,0.01,0.015],"format":".3f","title":"D","titleX":-33,"titleY":-12}},
   "fill":{"field":"lvl","type":"nominal","scale":{"domain":["Highest","2nd highest","2nd lowest","Lowest"],"range":["#d62728","#2ca02c","#ff7f0e","#1f77b4"]},
    "legend":{"orient":"none","legendX":1171.6,"legendY":395.7,"title":"Stimulus:","titleFontSize":17,"titlePadding":0,"symbolType":"square","symbolSize":169,"symbolOffset":13,"symbolOpacity":0.6,"symbolStrokeWidth":0,"labelExpr":"''","labelFontSize":1,"labelOffset":0,"rowPadding":3.7,"padding":8,"strokeColor":"#cccccc","cornerRadius":5}}}},
  {"mark":{"type":"rule","strokeWidth":2.7,"opacity":0.6},"encoding":{
   "x":{"field":"lvl","type":"nominal"},
   "y":{"field":"lo","type":"quantitative"},"y2":{"field":"hi"},
   "stroke":{"field":"lvl","type":"nominal","scale":{"domain":["Highest","2nd highest","2nd lowest","Lowest"],"range":["#d62728","#2ca02c","#ff7f0e","#1f77b4"]},"legend":null}}},
  {"mark":{"type":"line","color":"#000000","strokeWidth":3.5,"opacity":1},"encoding":{
   "x":{"field":"lvl","type":"nominal"},
   "y":{"field":"f","type":"quantitative"}}},
  {"data":{"name":"DT"},"mark":{"type":"text","fontSize":17,"align":"left","baseline":"middle","dx":-16.3,"color":"#000"},"encoding":{
   "x":{"datum":"Lowest"},
   "y":{"field":"y","type":"quantitative"},
   "text":{"field":"t"}}}
 ]
},
{
 "width":301,"height":242.5,
 "title":{"text":"Expected confidence","offset":-23.3},
 "encoding":{"x":{"field":"x","type":"quantitative","scale":{"domain":[-20,35],"nice":false,"zero":false},"axis":{"values":[-20,-15,-10,-5,0,5,10,15,20,25,30,35],"labelExpr":"''+datum.value","labelOverlap":false,"labelPadding":6.8,"title":"Trial","titleY":50.5,"titleBaseline":"alphabetic"}}},
 "layer":[
  {"data":{"name":"S"},"mark":{"type":"rect","color":"#e5e5e5"},"encoding":{"x2":{"field":"x2"}}},
  {"data":{"name":"E"},"mark":{"type":"line"},"encoding":{
   "y":{"field":"y","type":"quantitative","scale":{"domain":[-0.0214,0.5],"nice":false,"zero":false},"axis":{"values":[0,0.1,0.2,0.3,0.4,0.5],"format":".1f","title":"E","titleX":-36.7,"titleY":-11}},
   "color":{"field":"c","type":"nominal","scale":{"domain":["R","G","O","B"],"range":["#d62728","#2ca02c","#ff7f0e","#1f77b4"]},"legend":null},
   "strokeDash":{"field":"n","type":"nominal","scale":{"domain":[18,15,12,9],"range":[[1,0],[20.5,5.2,3.2,5.2],[12,5.2],[3.2,5.3]]}}}},
  {"data":{"name":"P"},"mark":{"type":"text","fontSize":18.6,"baseline":"alphabetic","dy":-3.5,"color":"#000"},"encoding":{"y":{"datum":-0.0214},"text":{"field":"t"}}}
 ]
},
{"width":54,"height":1,"view":{"stroke":null},"data":{"values":[]},"mark":"point"},
{
 "width":302.3,"height":242.5,
 "title":{"text":"Confidence prediction error","offset":-22.3},
 "encoding":{"x":{"field":"x","type":"quantitative","scale":{"domain":[-20,35],"nice":false,"zero":false},"axis":{"values":[-20,-15,-10,-5,0,5,10,15,20,25,30,35],"labelExpr":"''+datum.value","labelOverlap":false,"labelPadding":6.8,"title":"Trial","titleY":50.5,"titleBaseline":"alphabetic"}}},
 "layer":[
  {"data":{"name":"S"},"mark":{"type":"rect","color":"#e5e5e5"},"encoding":{"x2":{"field":"x2"}}},
  {"data":{"name":"F"},"mark":{"type":"line"},"encoding":{
   "y":{"field":"y","type":"quantitative","scale":{"domain":[-0.3,0.549],"nice":false,"zero":false},"axis":{"values":[-0.2,0,0.2,0.4],"labelExpr":"(datum.value<0?'-':'')+format(abs(datum.value),'.1f')","title":"F","titleX":-28.7,"titleY":-10}},
   "color":{"field":"c","type":"nominal","scale":{"domain":["R","G","O","B"],"range":["#d62728","#2ca02c","#ff7f0e","#1f77b4"]},"legend":null},
   "strokeDash":{"field":"n","type":"nominal","scale":{"domain":[18,15,12,9],"range":[[1,0],[20.5,5.2,3.2,5.2],[12,5.2],[3.2,5.3]]}}}},
  {"data":{"name":"P"},"mark":{"type":"text","fontSize":18.6,"baseline":"alphabetic","dy":-3.5,"color":"#000"},"encoding":{"y":{"datum":-0.3},"text":{"field":"t"}}}
 ]
},
{"width":52.7,"height":1,"view":{"stroke":null},"data":{"values":[]},"mark":"point"},
{
 "width":301,"height":242.5,
 "title":{"text":"Abs. confidence prediction error","offset":-22.3},
 "layer":[
  {
   "encoding":{"x":{"field":"x","type":"quantitative","scale":{"domain":[-20,35],"nice":false,"zero":false},"axis":{"values":[-20,-15,-10,-5,0,5,10,15,20,25,30,35],"labelExpr":"''+datum.value","labelOverlap":false,"labelPadding":6.8,"title":"Trial","titleY":50.5,"titleBaseline":"alphabetic"}}},
   "layer":[
    {"data":{"name":"S"},"mark":{"type":"rect","color":"#e5e5e5"},"encoding":{"x2":{"field":"x2"}}},
    {"data":{"name":"G"},"mark":{"type":"line"},"encoding":{
     "y":{"field":"y","type":"quantitative","scale":{"domain":[0,0.548],"nice":false,"zero":false},"axis":{"values":[0,0.1,0.2,0.3,0.4,0.5],"format":".1f","title":"G","titleX":-43.7,"titleY":-10}},
     "color":{"field":"c","type":"nominal","scale":{"domain":["R","G","O","B"],"range":["#d62728","#2ca02c","#ff7f0e","#1f77b4"]},"legend":null},
     "strokeDash":{"field":"n","type":"nominal","scale":{"domain":[18,15,12,9],"range":[[1,0],[20.5,5.2,3.2,5.2],[12,5.2],[3.2,5.3]]},
      "legend":{"orient":"none","legendX":1035,"legendY":387.5,"title":["No. trials","in Phase 1:"],"titleFontSize":17,"titleLineHeight":20,"titlePadding":0,"labelFontSize":17,"labelOffset":37,"symbolType":"M-4,0H4","symbolSize":321,"symbolOffset":26.9,"symbolStrokeWidth":3.5,"symbolStrokeColor":"#999999","symbolOpacity":1,"rowPadding":2.5,"padding":0}}}},
    {"data":{"name":"P"},"mark":{"type":"text","fontSize":18.6,"baseline":"alphabetic","dy":-3.5,"color":"#000"},"encoding":{"y":{"datum":0},"text":{"field":"t"}}}
   ]
  },
  {"data":{"name":"V"},"mark":{"type":"rule","color":"#555555","strokeWidth":1.6},"encoding":{"x":{"datum":72.3,"type":"quantitative","axis":{"values":[-20,-15,-10,-5,0,5,10,15,20,25,30,35],"labelExpr":"''+datum.value","labelOverlap":false,"labelPadding":6.8,"title":"Trial","titleY":50.5,"titleBaseline":"alphabetic"}},"y":{"datum":0.1451,"type":"quantitative"},"y2":{"datum":0.265}}},
  {"data":{"name":"V"},"mark":{"type":"point","shape":"triangle-up","filled":true,"color":"#555555","size":40,"opacity":1},"encoding":{"x":{"datum":72.3,"type":"quantitative","axis":{"values":[-20,-15,-10,-5,0,5,10,15,20,25,30,35],"labelExpr":"''+datum.value","labelOverlap":false,"labelPadding":6.8,"title":"Trial","titleY":50.5,"titleBaseline":"alphabetic"}},"y":{"datum":0.2671,"type":"quantitative"}}},
  {"data":{"name":"V"},"mark":{"type":"text","angle":270,"fontSize":17,"color":"#555555","lineHeight":18.7,"align":"center","baseline":"middle"},"encoding":{"x":{"datum":76.05,"type":"quantitative","axis":{"values":[-20,-15,-10,-5,0,5,10,15,20,25,30,35],"labelExpr":"''+datum.value","labelOverlap":false,"labelPadding":6.8,"title":"Trial","titleY":50.5,"titleBaseline":"alphabetic"}},"y":{"datum":0.2355,"type":"quantitative"},"text":{"value":["Value","level"]}}}
 ]
}
]
}
